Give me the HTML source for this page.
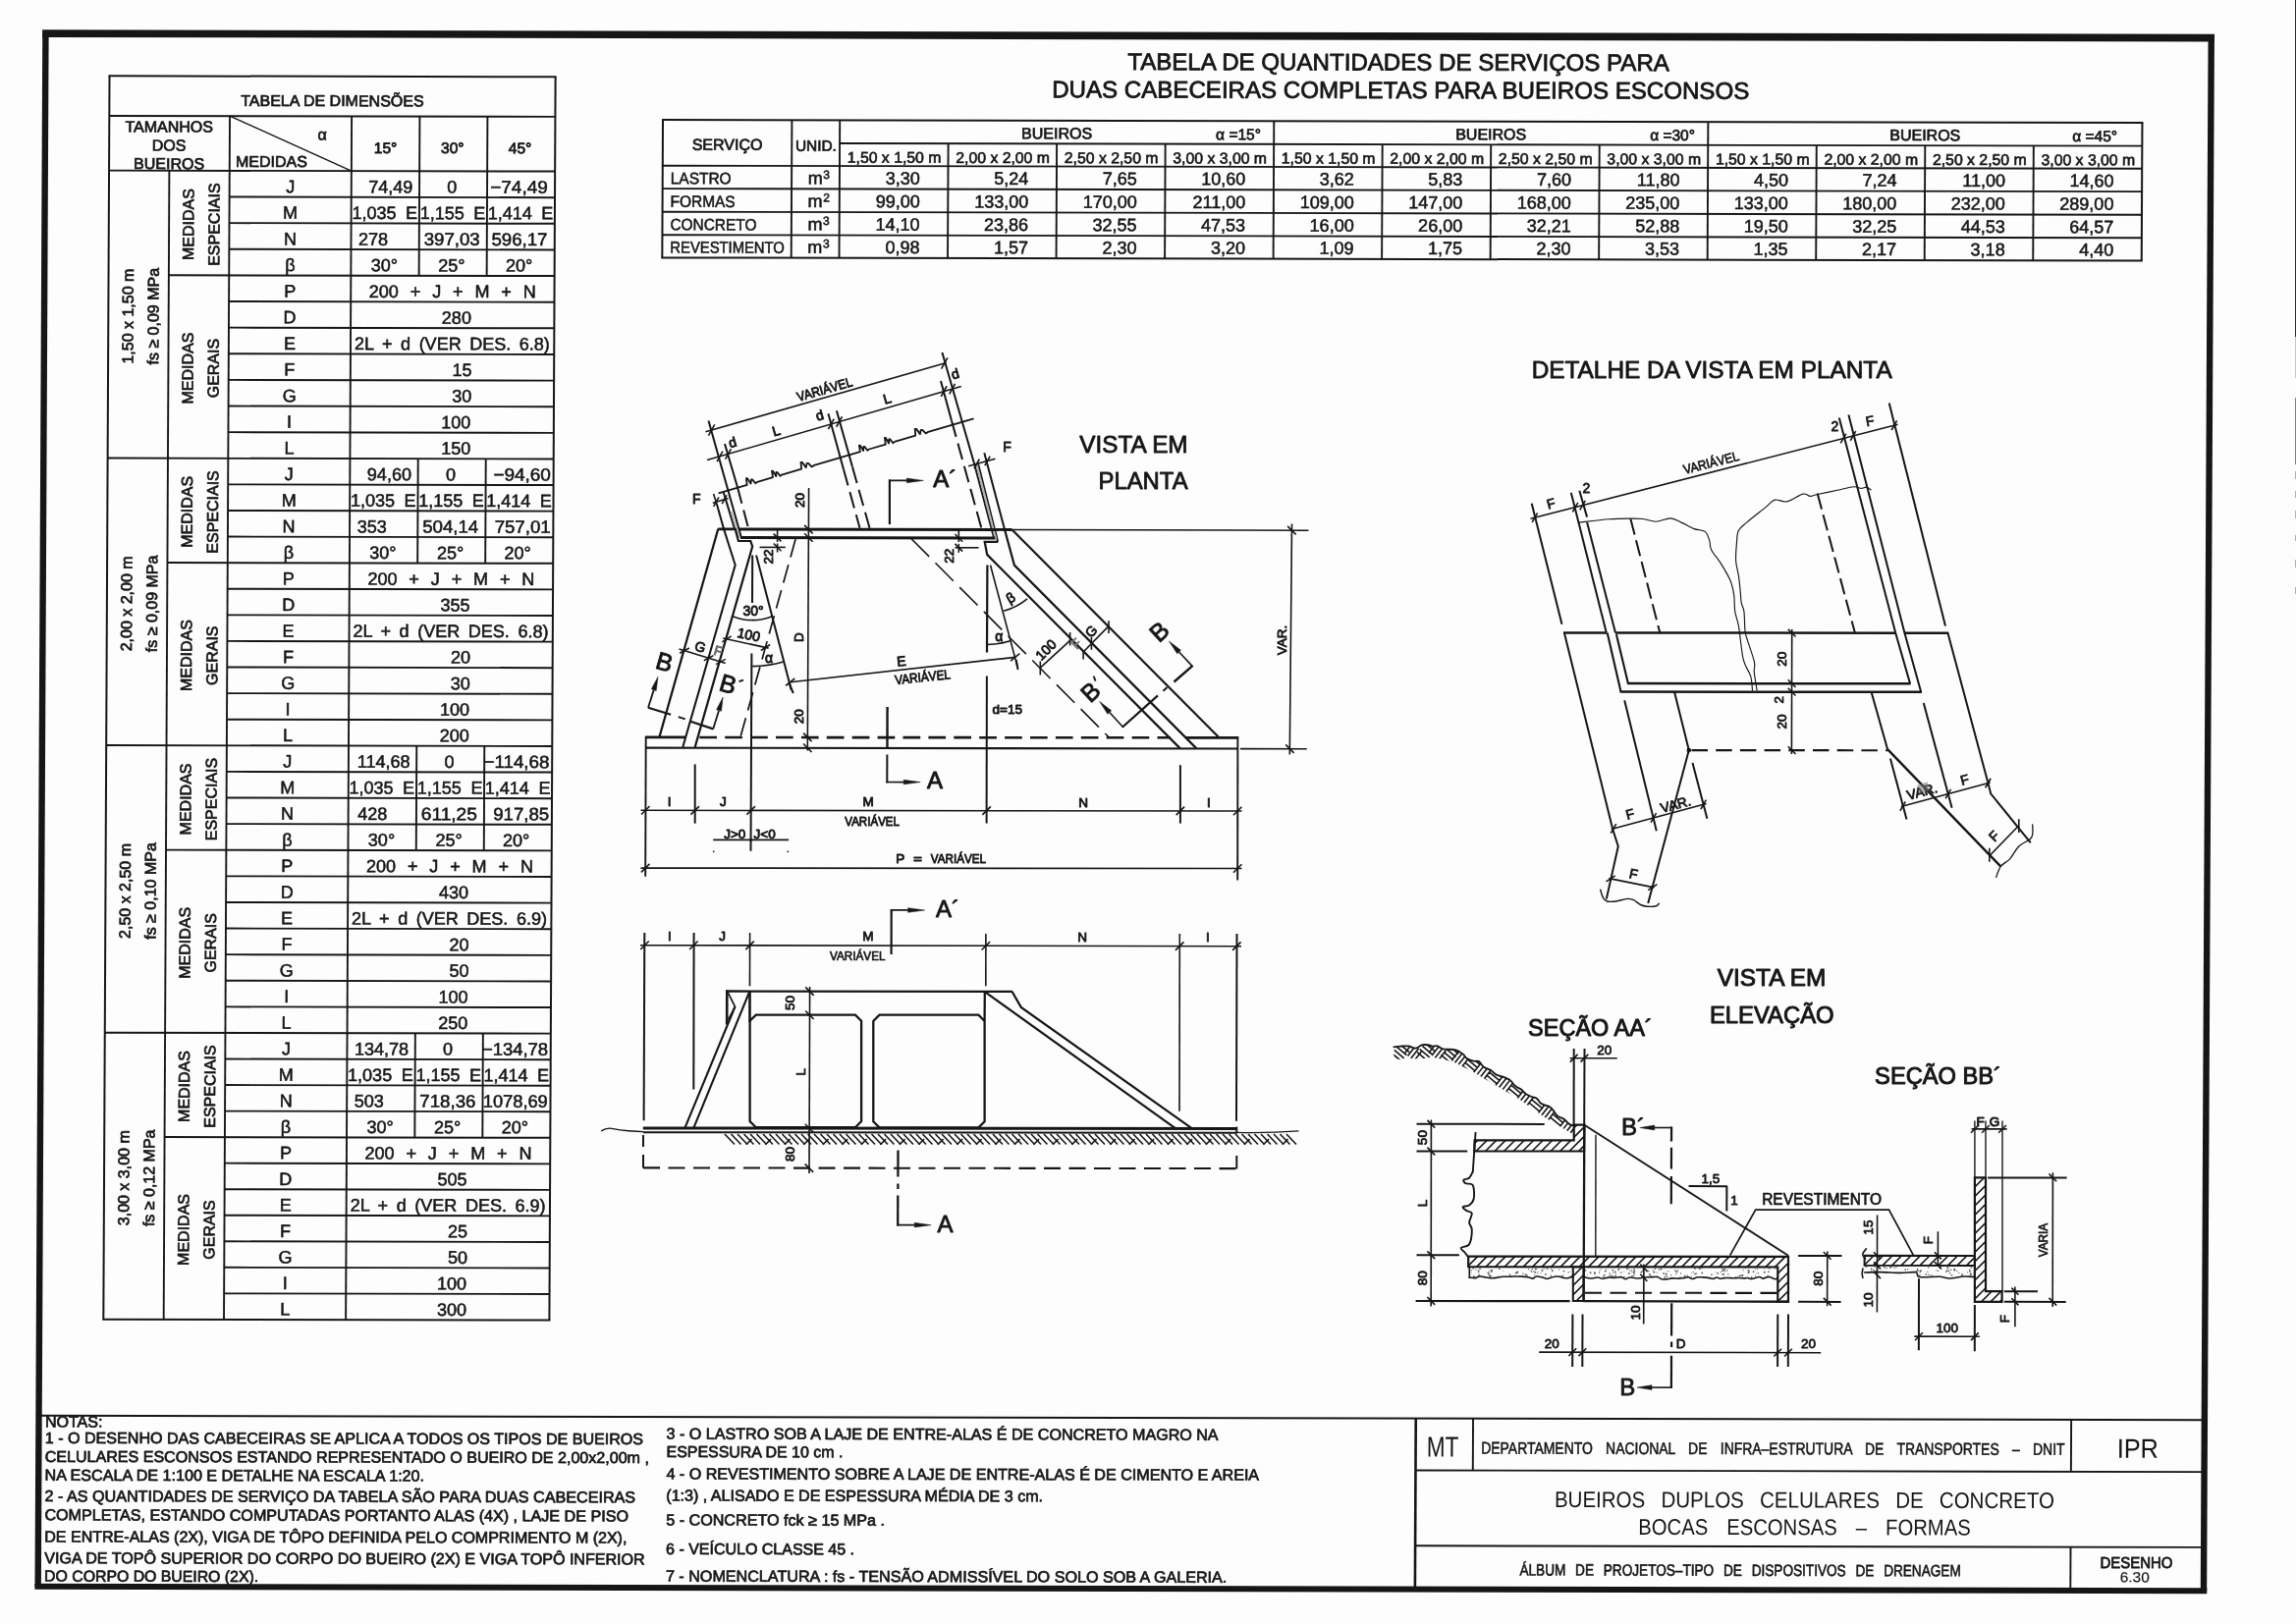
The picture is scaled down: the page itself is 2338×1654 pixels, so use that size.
<!DOCTYPE html>
<html><head><meta charset="utf-8"><title>Bueiros duplos celulares de concreto - bocas esconsas - formas</title>
<style>
html,body{margin:0;padding:0;background:#fdfdfd;}
body{width:2338px;height:1654px;overflow:hidden;font-family:"Liberation Sans",sans-serif;}
svg{display:block;font-family:"Liberation Sans",sans-serif;filter:blur(0.4px);}
text{paint-order:stroke;}
</style></head><body>
<svg width="2338" height="1654" viewBox="0 0 2338 1654">
<rect width="2338" height="1654" fill="#fdfdfd"/>
<g transform="matrix(1,0.00205,-0.0049,1,0,0)">
<path d="M43.3,37.8L2255.2,37.8L2255.2,30.2L43.3,30.2Z" fill="#161616"/>
<path d="M43.3,1618.6L2255.2,1618.6L2255.2,1612.6L43.3,1612.6Z" fill="#161616"/>
<path d="M43.4,33.6L43.4,1615.6L49.8,1615.6L49.8,33.6Z" fill="#161616"/>
<path d="M2248.7,33.6L2248.7,1615.6L2255.1,1615.6L2255.1,33.6Z" fill="#161616"/>
<path d="M46,1442.6L2252,1442.6L2252,1440.6L46,1440.6Z" fill="#161616"/>
<g transform="translate(0.3,0.8)">
<path d="M110.6,77.3L566.7,77.3L566.7,75.3L110.6,75.3Z" fill="#161616"/>
<path d="M110.6,1343.6L566.7,1343.6L566.7,1341.6L110.6,1341.6Z" fill="#161616"/>
<path d="M110.6,76.3L110.6,1342.6L112.6,1342.6L112.6,76.3Z" fill="#161616"/>
<path d="M564.7,76.3L564.7,1342.6L566.7,1342.6L566.7,76.3Z" fill="#161616"/>
<path d="M111.6,117.85L565.7,117.85L565.7,115.95L111.6,115.95Z" fill="#161616"/>
<path d="M111.6,173.55L565.7,173.55L565.7,171.65L111.6,171.65Z" fill="#161616"/>
<path d="M233.35,116.9L233.35,1342.6L235.25,1342.6L235.25,116.9Z" fill="#161616"/>
<path d="M357.45,116.9L357.45,1342.6L359.35,1342.6L359.35,116.9Z" fill="#161616"/>
<path d="M426.75,116.9L426.75,172.6L428.65,172.6L428.65,116.9Z" fill="#161616"/>
<path d="M495.75,116.9L495.75,172.6L497.65,172.6L497.65,116.9Z" fill="#161616"/>
<path d="M172,172.6L172,1342.6L173.9,1342.6L173.9,172.6Z" fill="#161616"/>
<path d="M234.01,117.54L358.11,173.24L358.69,171.96L234.59,116.26Z" fill="#161616"/>
<text x="338.65" y="106.6" font-size="16" text-anchor="middle" stroke="#161616" stroke-width="0.72" stroke-linejoin="round" fill="#161616">TABELA DE DIMENSÕES</text>
<text x="172.6" y="133.4" font-size="16" text-anchor="middle" stroke="#161616" stroke-width="0.72" stroke-linejoin="round" fill="#161616">TAMANHOS</text>
<text x="172.6" y="152.4" font-size="16" text-anchor="middle" stroke="#161616" stroke-width="0.72" stroke-linejoin="round" fill="#161616">DOS</text>
<text x="172.6" y="171" font-size="16" text-anchor="middle" stroke="#161616" stroke-width="0.72" stroke-linejoin="round" fill="#161616">BUEIROS</text>
<text x="328.5" y="141" font-size="16" text-anchor="middle" stroke="#161616" stroke-width="0.72" stroke-linejoin="round" fill="#161616">α</text>
<text x="240.5" y="168.6" font-size="16" stroke="#161616" stroke-width="0.72" stroke-linejoin="round" fill="#161616">MEDIDAS</text>
<text x="393" y="154.3" font-size="15.5" text-anchor="middle" stroke="#161616" stroke-width="0.8" stroke-linejoin="round" fill="#161616">15°</text>
<text x="461.3" y="154.3" font-size="15.5" text-anchor="middle" stroke="#161616" stroke-width="0.8" stroke-linejoin="round" fill="#161616">30°</text>
<text x="530" y="154.3" font-size="15.5" text-anchor="middle" stroke="#161616" stroke-width="0.8" stroke-linejoin="round" fill="#161616">45°</text>
<path d="M234.3,200.18L565.7,200.18L565.7,198.28L234.3,198.28Z" fill="#161616"/>
<path d="M234.3,226.8L565.7,226.8L565.7,224.9L234.3,224.9Z" fill="#161616"/>
<path d="M234.3,253.43L565.7,253.43L565.7,251.53L234.3,251.53Z" fill="#161616"/>
<path d="M172.7,280.06L565.7,280.06L565.7,278.16L172.7,278.16Z" fill="#161616"/>
<path d="M234.3,306.69L565.7,306.69L565.7,304.79L234.3,304.79Z" fill="#161616"/>
<path d="M234.3,333.31L565.7,333.31L565.7,331.41L234.3,331.41Z" fill="#161616"/>
<path d="M234.3,359.94L565.7,359.94L565.7,358.04L234.3,358.04Z" fill="#161616"/>
<path d="M234.3,386.57L565.7,386.57L565.7,384.67L234.3,384.67Z" fill="#161616"/>
<path d="M234.3,413.2L565.7,413.2L565.7,411.3L234.3,411.3Z" fill="#161616"/>
<path d="M234.3,439.82L565.7,439.82L565.7,437.92L234.3,437.92Z" fill="#161616"/>
<path d="M426.75,172.6L426.75,279.11L428.65,279.11L428.65,172.6Z" fill="#161616"/>
<path d="M495.75,172.6L495.75,279.11L497.65,279.11L497.65,172.6Z" fill="#161616"/>
<text x="137" y="321.05" font-size="16" text-anchor="middle" stroke="#161616" stroke-width="0.72" stroke-linejoin="round" fill="#161616" transform="rotate(-90 137 321.05)">1,50 x 1,50 m</text>
<text x="162.8" y="321.05" font-size="16" text-anchor="middle" stroke="#161616" stroke-width="0.72" stroke-linejoin="round" fill="#161616" transform="rotate(-90 162.8 321.05)">fs ≥ 0,09 MPa</text>
<text x="198.1" y="227.35" font-size="16" text-anchor="middle" stroke="#161616" stroke-width="0.72" stroke-linejoin="round" fill="#161616" transform="rotate(-90 198.1 227.35)">MEDIDAS</text>
<text x="224.3" y="227.35" font-size="16" text-anchor="middle" stroke="#161616" stroke-width="0.72" stroke-linejoin="round" fill="#161616" transform="rotate(-90 224.3 227.35)">ESPECIAIS</text>
<text x="198.1" y="373.8" font-size="16" text-anchor="middle" stroke="#161616" stroke-width="0.72" stroke-linejoin="round" fill="#161616" transform="rotate(-90 198.1 373.8)">MEDIDAS</text>
<text x="224.3" y="373.8" font-size="16" text-anchor="middle" stroke="#161616" stroke-width="0.72" stroke-linejoin="round" fill="#161616" transform="rotate(-90 224.3 373.8)">GERAIS</text>
<text x="296.4" y="194.83" font-size="18" text-anchor="middle" stroke="#161616" stroke-width="0.56" stroke-linejoin="round" fill="#161616">J</text>
<text x="296.4" y="221.45" font-size="18" text-anchor="middle" stroke="#161616" stroke-width="0.56" stroke-linejoin="round" fill="#161616">M</text>
<text x="296.4" y="248.08" font-size="18" text-anchor="middle" stroke="#161616" stroke-width="0.56" stroke-linejoin="round" fill="#161616">N</text>
<text x="296.4" y="274.71" font-size="18" text-anchor="middle" stroke="#161616" stroke-width="0.56" stroke-linejoin="round" fill="#161616">β</text>
<text x="296.4" y="301.34" font-size="18" text-anchor="middle" stroke="#161616" stroke-width="0.56" stroke-linejoin="round" fill="#161616">P</text>
<text x="296.4" y="327.96" font-size="18" text-anchor="middle" stroke="#161616" stroke-width="0.56" stroke-linejoin="round" fill="#161616">D</text>
<text x="296.4" y="354.59" font-size="18" text-anchor="middle" stroke="#161616" stroke-width="0.56" stroke-linejoin="round" fill="#161616">E</text>
<text x="296.4" y="381.22" font-size="18" text-anchor="middle" stroke="#161616" stroke-width="0.56" stroke-linejoin="round" fill="#161616">F</text>
<text x="296.4" y="407.85" font-size="18" text-anchor="middle" stroke="#161616" stroke-width="0.56" stroke-linejoin="round" fill="#161616">G</text>
<text x="296.4" y="434.47" font-size="18" text-anchor="middle" stroke="#161616" stroke-width="0.56" stroke-linejoin="round" fill="#161616">I</text>
<text x="296.4" y="461.1" font-size="18" text-anchor="middle" stroke="#161616" stroke-width="0.56" stroke-linejoin="round" fill="#161616">L</text>
<text x="421" y="194.83" font-size="18" text-anchor="end" stroke="#161616" stroke-width="0.56" stroke-linejoin="round" fill="#161616">74,49</text>
<text x="461" y="194.83" font-size="18" text-anchor="middle" stroke="#161616" stroke-width="0.56" stroke-linejoin="round" fill="#161616">0</text>
<text x="558.4" y="194.83" font-size="18" text-anchor="end" textLength="58.5" lengthAdjust="spacingAndGlyphs" stroke="#161616" stroke-width="0.56" stroke-linejoin="round" fill="#161616">−74,49</text>
<text x="359.2" y="221.45" font-size="18" stroke="#161616" stroke-width="0.56" stroke-linejoin="round" word-spacing="4.5" fill="#161616">1,035 E</text>
<text x="428.5" y="221.45" font-size="18" stroke="#161616" stroke-width="0.56" stroke-linejoin="round" word-spacing="4.5" fill="#161616">1,155 E</text>
<text x="497.5" y="221.45" font-size="18" stroke="#161616" stroke-width="0.56" stroke-linejoin="round" word-spacing="4.5" fill="#161616">1,414 E</text>
<text x="366" y="248.08" font-size="18" stroke="#161616" stroke-width="0.56" stroke-linejoin="round" fill="#161616">278</text>
<text x="489.6" y="248.08" font-size="18" text-anchor="end" textLength="57" lengthAdjust="spacingAndGlyphs" stroke="#161616" stroke-width="0.56" stroke-linejoin="round" fill="#161616">397,03</text>
<text x="558.4" y="248.08" font-size="18" text-anchor="end" textLength="57" lengthAdjust="spacingAndGlyphs" stroke="#161616" stroke-width="0.56" stroke-linejoin="round" fill="#161616">596,17</text>
<text x="392.4" y="274.71" font-size="18" text-anchor="middle" stroke="#161616" stroke-width="0.56" stroke-linejoin="round" fill="#161616">30°</text>
<text x="461" y="274.71" font-size="18" text-anchor="middle" stroke="#161616" stroke-width="0.56" stroke-linejoin="round" fill="#161616">25°</text>
<text x="529.6" y="274.71" font-size="18" text-anchor="middle" stroke="#161616" stroke-width="0.56" stroke-linejoin="round" fill="#161616">20°</text>
<text x="377" y="301.34" font-size="18" stroke="#161616" stroke-width="0.56" stroke-linejoin="round" word-spacing="6.9" fill="#161616">200 + J + M + N</text>
<text x="466.2" y="327.96" font-size="18" text-anchor="middle" stroke="#161616" stroke-width="0.56" stroke-linejoin="round" fill="#161616">280</text>
<text x="362.4" y="354.59" font-size="18" stroke="#161616" stroke-width="0.56" stroke-linejoin="round" word-spacing="3.6" fill="#161616">2L + d (VER DES. 6.8)</text>
<text x="472" y="381.22" font-size="18" text-anchor="middle" stroke="#161616" stroke-width="0.56" stroke-linejoin="round" fill="#161616">15</text>
<text x="472" y="407.85" font-size="18" text-anchor="middle" stroke="#161616" stroke-width="0.56" stroke-linejoin="round" fill="#161616">30</text>
<text x="466.2" y="434.47" font-size="18" text-anchor="middle" stroke="#161616" stroke-width="0.56" stroke-linejoin="round" fill="#161616">100</text>
<text x="466.2" y="461.1" font-size="18" text-anchor="middle" stroke="#161616" stroke-width="0.56" stroke-linejoin="round" fill="#161616">150</text>
<path d="M111.6,466.45L565.7,466.45L565.7,464.55L111.6,464.55Z" fill="#161616"/>
<path d="M234.3,493.04L565.7,493.04L565.7,491.14L234.3,491.14Z" fill="#161616"/>
<path d="M234.3,519.63L565.7,519.63L565.7,517.73L234.3,517.73Z" fill="#161616"/>
<path d="M234.3,546.22L565.7,546.22L565.7,544.32L234.3,544.32Z" fill="#161616"/>
<path d="M172.7,572.81L565.7,572.81L565.7,570.91L172.7,570.91Z" fill="#161616"/>
<path d="M234.3,599.4L565.7,599.4L565.7,597.5L234.3,597.5Z" fill="#161616"/>
<path d="M234.3,626L565.7,626L565.7,624.1L234.3,624.1Z" fill="#161616"/>
<path d="M234.3,652.59L565.7,652.59L565.7,650.69L234.3,650.69Z" fill="#161616"/>
<path d="M234.3,679.18L565.7,679.18L565.7,677.28L234.3,677.28Z" fill="#161616"/>
<path d="M234.3,705.77L565.7,705.77L565.7,703.87L234.3,703.87Z" fill="#161616"/>
<path d="M234.3,732.36L565.7,732.36L565.7,730.46L234.3,730.46Z" fill="#161616"/>
<path d="M426.75,465.5L426.75,571.86L428.65,571.86L428.65,465.5Z" fill="#161616"/>
<path d="M495.75,465.5L495.75,571.86L497.65,571.86L497.65,465.5Z" fill="#161616"/>
<text x="137" y="613.75" font-size="16" text-anchor="middle" stroke="#161616" stroke-width="0.72" stroke-linejoin="round" fill="#161616" transform="rotate(-90 137 613.75)">2,00 x 2,00 m</text>
<text x="162.8" y="613.75" font-size="16" text-anchor="middle" stroke="#161616" stroke-width="0.72" stroke-linejoin="round" fill="#161616" transform="rotate(-90 162.8 613.75)">fs ≥ 0,09 MPa</text>
<text x="198.1" y="520.18" font-size="16" text-anchor="middle" stroke="#161616" stroke-width="0.72" stroke-linejoin="round" fill="#161616" transform="rotate(-90 198.1 520.18)">MEDIDAS</text>
<text x="224.3" y="520.18" font-size="16" text-anchor="middle" stroke="#161616" stroke-width="0.72" stroke-linejoin="round" fill="#161616" transform="rotate(-90 224.3 520.18)">ESPECIAIS</text>
<text x="198.1" y="666.43" font-size="16" text-anchor="middle" stroke="#161616" stroke-width="0.72" stroke-linejoin="round" fill="#161616" transform="rotate(-90 198.1 666.43)">MEDIDAS</text>
<text x="224.3" y="666.43" font-size="16" text-anchor="middle" stroke="#161616" stroke-width="0.72" stroke-linejoin="round" fill="#161616" transform="rotate(-90 224.3 666.43)">GERAIS</text>
<text x="296.4" y="487.69" font-size="18" text-anchor="middle" stroke="#161616" stroke-width="0.56" stroke-linejoin="round" fill="#161616">J</text>
<text x="296.4" y="514.28" font-size="18" text-anchor="middle" stroke="#161616" stroke-width="0.56" stroke-linejoin="round" fill="#161616">M</text>
<text x="296.4" y="540.87" font-size="18" text-anchor="middle" stroke="#161616" stroke-width="0.56" stroke-linejoin="round" fill="#161616">N</text>
<text x="296.4" y="567.46" font-size="18" text-anchor="middle" stroke="#161616" stroke-width="0.56" stroke-linejoin="round" fill="#161616">β</text>
<text x="296.4" y="594.05" font-size="18" text-anchor="middle" stroke="#161616" stroke-width="0.56" stroke-linejoin="round" fill="#161616">P</text>
<text x="296.4" y="620.65" font-size="18" text-anchor="middle" stroke="#161616" stroke-width="0.56" stroke-linejoin="round" fill="#161616">D</text>
<text x="296.4" y="647.24" font-size="18" text-anchor="middle" stroke="#161616" stroke-width="0.56" stroke-linejoin="round" fill="#161616">E</text>
<text x="296.4" y="673.83" font-size="18" text-anchor="middle" stroke="#161616" stroke-width="0.56" stroke-linejoin="round" fill="#161616">F</text>
<text x="296.4" y="700.42" font-size="18" text-anchor="middle" stroke="#161616" stroke-width="0.56" stroke-linejoin="round" fill="#161616">G</text>
<text x="296.4" y="727.01" font-size="18" text-anchor="middle" stroke="#161616" stroke-width="0.56" stroke-linejoin="round" fill="#161616">I</text>
<text x="296.4" y="753.6" font-size="18" text-anchor="middle" stroke="#161616" stroke-width="0.56" stroke-linejoin="round" fill="#161616">L</text>
<text x="421" y="487.69" font-size="18" text-anchor="end" stroke="#161616" stroke-width="0.56" stroke-linejoin="round" fill="#161616">94,60</text>
<text x="461" y="487.69" font-size="18" text-anchor="middle" stroke="#161616" stroke-width="0.56" stroke-linejoin="round" fill="#161616">0</text>
<text x="563" y="487.69" font-size="18" text-anchor="end" textLength="58.5" lengthAdjust="spacingAndGlyphs" stroke="#161616" stroke-width="0.56" stroke-linejoin="round" fill="#161616">−94,60</text>
<text x="359.2" y="514.28" font-size="18" stroke="#161616" stroke-width="0.56" stroke-linejoin="round" word-spacing="4.5" fill="#161616">1,035 E</text>
<text x="428.5" y="514.28" font-size="18" stroke="#161616" stroke-width="0.56" stroke-linejoin="round" word-spacing="4.5" fill="#161616">1,155 E</text>
<text x="497.5" y="514.28" font-size="18" stroke="#161616" stroke-width="0.56" stroke-linejoin="round" word-spacing="4.5" fill="#161616">1,414 E</text>
<text x="366" y="540.87" font-size="18" stroke="#161616" stroke-width="0.56" stroke-linejoin="round" fill="#161616">353</text>
<text x="489.6" y="540.87" font-size="18" text-anchor="end" textLength="57" lengthAdjust="spacingAndGlyphs" stroke="#161616" stroke-width="0.56" stroke-linejoin="round" fill="#161616">504,14</text>
<text x="563" y="540.87" font-size="18" text-anchor="end" textLength="57" lengthAdjust="spacingAndGlyphs" stroke="#161616" stroke-width="0.56" stroke-linejoin="round" fill="#161616">757,01</text>
<text x="392.4" y="567.46" font-size="18" text-anchor="middle" stroke="#161616" stroke-width="0.56" stroke-linejoin="round" fill="#161616">30°</text>
<text x="461" y="567.46" font-size="18" text-anchor="middle" stroke="#161616" stroke-width="0.56" stroke-linejoin="round" fill="#161616">25°</text>
<text x="529.6" y="567.46" font-size="18" text-anchor="middle" stroke="#161616" stroke-width="0.56" stroke-linejoin="round" fill="#161616">20°</text>
<text x="377" y="594.05" font-size="18" stroke="#161616" stroke-width="0.56" stroke-linejoin="round" word-spacing="6.9" fill="#161616">200 + J + M + N</text>
<text x="466.2" y="620.65" font-size="18" text-anchor="middle" stroke="#161616" stroke-width="0.56" stroke-linejoin="round" fill="#161616">355</text>
<text x="362.4" y="647.24" font-size="18" stroke="#161616" stroke-width="0.56" stroke-linejoin="round" word-spacing="3.6" fill="#161616">2L + d (VER DES. 6.8)</text>
<text x="472" y="673.83" font-size="18" text-anchor="middle" stroke="#161616" stroke-width="0.56" stroke-linejoin="round" fill="#161616">20</text>
<text x="472" y="700.42" font-size="18" text-anchor="middle" stroke="#161616" stroke-width="0.56" stroke-linejoin="round" fill="#161616">30</text>
<text x="466.2" y="727.01" font-size="18" text-anchor="middle" stroke="#161616" stroke-width="0.56" stroke-linejoin="round" fill="#161616">100</text>
<text x="466.2" y="753.6" font-size="18" text-anchor="middle" stroke="#161616" stroke-width="0.56" stroke-linejoin="round" fill="#161616">200</text>
<path d="M111.6,758.95L565.7,758.95L565.7,757.05L111.6,757.05Z" fill="#161616"/>
<path d="M234.3,785.56L565.7,785.56L565.7,783.66L234.3,783.66Z" fill="#161616"/>
<path d="M234.3,812.17L565.7,812.17L565.7,810.27L234.3,810.27Z" fill="#161616"/>
<path d="M234.3,838.78L565.7,838.78L565.7,836.88L234.3,836.88Z" fill="#161616"/>
<path d="M172.7,865.39L565.7,865.39L565.7,863.49L172.7,863.49Z" fill="#161616"/>
<path d="M234.3,892L565.7,892L565.7,890.1L234.3,890.1Z" fill="#161616"/>
<path d="M234.3,918.6L565.7,918.6L565.7,916.7L234.3,916.7Z" fill="#161616"/>
<path d="M234.3,945.21L565.7,945.21L565.7,943.31L234.3,943.31Z" fill="#161616"/>
<path d="M234.3,971.82L565.7,971.82L565.7,969.92L234.3,969.92Z" fill="#161616"/>
<path d="M234.3,998.43L565.7,998.43L565.7,996.53L234.3,996.53Z" fill="#161616"/>
<path d="M234.3,1025.04L565.7,1025.04L565.7,1023.14L234.3,1023.14Z" fill="#161616"/>
<path d="M426.75,758L426.75,864.44L428.65,864.44L428.65,758Z" fill="#161616"/>
<path d="M495.75,758L495.75,864.44L497.65,864.44L497.65,758Z" fill="#161616"/>
<text x="137" y="906.35" font-size="16" text-anchor="middle" stroke="#161616" stroke-width="0.72" stroke-linejoin="round" fill="#161616" transform="rotate(-90 137 906.35)">2,50 x 2,50 m</text>
<text x="162.8" y="906.35" font-size="16" text-anchor="middle" stroke="#161616" stroke-width="0.72" stroke-linejoin="round" fill="#161616" transform="rotate(-90 162.8 906.35)">fs ≥ 0,10 MPa</text>
<text x="198.1" y="812.72" font-size="16" text-anchor="middle" stroke="#161616" stroke-width="0.72" stroke-linejoin="round" fill="#161616" transform="rotate(-90 198.1 812.72)">MEDIDAS</text>
<text x="224.3" y="812.72" font-size="16" text-anchor="middle" stroke="#161616" stroke-width="0.72" stroke-linejoin="round" fill="#161616" transform="rotate(-90 224.3 812.72)">ESPECIAIS</text>
<text x="198.1" y="959.07" font-size="16" text-anchor="middle" stroke="#161616" stroke-width="0.72" stroke-linejoin="round" fill="#161616" transform="rotate(-90 198.1 959.07)">MEDIDAS</text>
<text x="224.3" y="959.07" font-size="16" text-anchor="middle" stroke="#161616" stroke-width="0.72" stroke-linejoin="round" fill="#161616" transform="rotate(-90 224.3 959.07)">GERAIS</text>
<text x="296.4" y="780.21" font-size="18" text-anchor="middle" stroke="#161616" stroke-width="0.56" stroke-linejoin="round" fill="#161616">J</text>
<text x="296.4" y="806.82" font-size="18" text-anchor="middle" stroke="#161616" stroke-width="0.56" stroke-linejoin="round" fill="#161616">M</text>
<text x="296.4" y="833.43" font-size="18" text-anchor="middle" stroke="#161616" stroke-width="0.56" stroke-linejoin="round" fill="#161616">N</text>
<text x="296.4" y="860.04" font-size="18" text-anchor="middle" stroke="#161616" stroke-width="0.56" stroke-linejoin="round" fill="#161616">β</text>
<text x="296.4" y="886.65" font-size="18" text-anchor="middle" stroke="#161616" stroke-width="0.56" stroke-linejoin="round" fill="#161616">P</text>
<text x="296.4" y="913.25" font-size="18" text-anchor="middle" stroke="#161616" stroke-width="0.56" stroke-linejoin="round" fill="#161616">D</text>
<text x="296.4" y="939.86" font-size="18" text-anchor="middle" stroke="#161616" stroke-width="0.56" stroke-linejoin="round" fill="#161616">E</text>
<text x="296.4" y="966.47" font-size="18" text-anchor="middle" stroke="#161616" stroke-width="0.56" stroke-linejoin="round" fill="#161616">F</text>
<text x="296.4" y="993.08" font-size="18" text-anchor="middle" stroke="#161616" stroke-width="0.56" stroke-linejoin="round" fill="#161616">G</text>
<text x="296.4" y="1019.69" font-size="18" text-anchor="middle" stroke="#161616" stroke-width="0.56" stroke-linejoin="round" fill="#161616">I</text>
<text x="296.4" y="1046.3" font-size="18" text-anchor="middle" stroke="#161616" stroke-width="0.56" stroke-linejoin="round" fill="#161616">L</text>
<text x="421" y="780.21" font-size="18" text-anchor="end" stroke="#161616" stroke-width="0.56" stroke-linejoin="round" fill="#161616">114,68</text>
<text x="461" y="780.21" font-size="18" text-anchor="middle" stroke="#161616" stroke-width="0.56" stroke-linejoin="round" fill="#161616">0</text>
<text x="563" y="780.21" font-size="18" text-anchor="end" textLength="67" lengthAdjust="spacingAndGlyphs" stroke="#161616" stroke-width="0.56" stroke-linejoin="round" fill="#161616">−114,68</text>
<text x="359.2" y="806.82" font-size="18" stroke="#161616" stroke-width="0.56" stroke-linejoin="round" word-spacing="4.5" fill="#161616">1,035 E</text>
<text x="428.5" y="806.82" font-size="18" stroke="#161616" stroke-width="0.56" stroke-linejoin="round" word-spacing="4.5" fill="#161616">1,155 E</text>
<text x="497.5" y="806.82" font-size="18" stroke="#161616" stroke-width="0.56" stroke-linejoin="round" word-spacing="4.5" fill="#161616">1,414 E</text>
<text x="368" y="833.43" font-size="18" stroke="#161616" stroke-width="0.56" stroke-linejoin="round" fill="#161616">428</text>
<text x="489.6" y="833.43" font-size="18" text-anchor="end" textLength="57" lengthAdjust="spacingAndGlyphs" stroke="#161616" stroke-width="0.56" stroke-linejoin="round" fill="#161616">611,25</text>
<text x="563" y="833.43" font-size="18" text-anchor="end" textLength="57" lengthAdjust="spacingAndGlyphs" stroke="#161616" stroke-width="0.56" stroke-linejoin="round" fill="#161616">917,85</text>
<text x="392.4" y="860.04" font-size="18" text-anchor="middle" stroke="#161616" stroke-width="0.56" stroke-linejoin="round" fill="#161616">30°</text>
<text x="461" y="860.04" font-size="18" text-anchor="middle" stroke="#161616" stroke-width="0.56" stroke-linejoin="round" fill="#161616">25°</text>
<text x="529.6" y="860.04" font-size="18" text-anchor="middle" stroke="#161616" stroke-width="0.56" stroke-linejoin="round" fill="#161616">20°</text>
<text x="377" y="886.65" font-size="18" stroke="#161616" stroke-width="0.56" stroke-linejoin="round" word-spacing="6.9" fill="#161616">200 + J + M + N</text>
<text x="466.2" y="913.25" font-size="18" text-anchor="middle" stroke="#161616" stroke-width="0.56" stroke-linejoin="round" fill="#161616">430</text>
<text x="362.4" y="939.86" font-size="18" stroke="#161616" stroke-width="0.56" stroke-linejoin="round" word-spacing="3.6" fill="#161616">2L + d (VER DES. 6.9)</text>
<text x="472" y="966.47" font-size="18" text-anchor="middle" stroke="#161616" stroke-width="0.56" stroke-linejoin="round" fill="#161616">20</text>
<text x="472" y="993.08" font-size="18" text-anchor="middle" stroke="#161616" stroke-width="0.56" stroke-linejoin="round" fill="#161616">50</text>
<text x="466.2" y="1019.69" font-size="18" text-anchor="middle" stroke="#161616" stroke-width="0.56" stroke-linejoin="round" fill="#161616">100</text>
<text x="466.2" y="1046.3" font-size="18" text-anchor="middle" stroke="#161616" stroke-width="0.56" stroke-linejoin="round" fill="#161616">250</text>
<path d="M111.6,1051.65L565.7,1051.65L565.7,1049.75L111.6,1049.75Z" fill="#161616"/>
<path d="M234.3,1078.19L565.7,1078.19L565.7,1076.29L234.3,1076.29Z" fill="#161616"/>
<path d="M234.3,1104.72L565.7,1104.72L565.7,1102.82L234.3,1102.82Z" fill="#161616"/>
<path d="M234.3,1131.26L565.7,1131.26L565.7,1129.36L234.3,1129.36Z" fill="#161616"/>
<path d="M172.7,1157.8L565.7,1157.8L565.7,1155.9L172.7,1155.9Z" fill="#161616"/>
<path d="M234.3,1184.33L565.7,1184.33L565.7,1182.43L234.3,1182.43Z" fill="#161616"/>
<path d="M234.3,1210.87L565.7,1210.87L565.7,1208.97L234.3,1208.97Z" fill="#161616"/>
<path d="M234.3,1237.4L565.7,1237.4L565.7,1235.5L234.3,1235.5Z" fill="#161616"/>
<path d="M234.3,1263.94L565.7,1263.94L565.7,1262.04L234.3,1262.04Z" fill="#161616"/>
<path d="M234.3,1290.48L565.7,1290.48L565.7,1288.58L234.3,1288.58Z" fill="#161616"/>
<path d="M234.3,1317.01L565.7,1317.01L565.7,1315.11L234.3,1315.11Z" fill="#161616"/>
<path d="M426.75,1050.7L426.75,1156.85L428.65,1156.85L428.65,1050.7Z" fill="#161616"/>
<path d="M495.75,1050.7L495.75,1156.85L497.65,1156.85L497.65,1050.7Z" fill="#161616"/>
<text x="137" y="1198.65" font-size="16" text-anchor="middle" stroke="#161616" stroke-width="0.72" stroke-linejoin="round" fill="#161616" transform="rotate(-90 137 1198.65)">3,00 x 3,00 m</text>
<text x="162.8" y="1198.65" font-size="16" text-anchor="middle" stroke="#161616" stroke-width="0.72" stroke-linejoin="round" fill="#161616" transform="rotate(-90 162.8 1198.65)">fs ≥ 0,12 MPa</text>
<text x="198.1" y="1105.27" font-size="16" text-anchor="middle" stroke="#161616" stroke-width="0.72" stroke-linejoin="round" fill="#161616" transform="rotate(-90 198.1 1105.27)">MEDIDAS</text>
<text x="224.3" y="1105.27" font-size="16" text-anchor="middle" stroke="#161616" stroke-width="0.72" stroke-linejoin="round" fill="#161616" transform="rotate(-90 224.3 1105.27)">ESPECIAIS</text>
<text x="198.1" y="1251.22" font-size="16" text-anchor="middle" stroke="#161616" stroke-width="0.72" stroke-linejoin="round" fill="#161616" transform="rotate(-90 198.1 1251.22)">MEDIDAS</text>
<text x="224.3" y="1251.22" font-size="16" text-anchor="middle" stroke="#161616" stroke-width="0.72" stroke-linejoin="round" fill="#161616" transform="rotate(-90 224.3 1251.22)">GERAIS</text>
<text x="296.4" y="1072.84" font-size="18" text-anchor="middle" stroke="#161616" stroke-width="0.56" stroke-linejoin="round" fill="#161616">J</text>
<text x="296.4" y="1099.37" font-size="18" text-anchor="middle" stroke="#161616" stroke-width="0.56" stroke-linejoin="round" fill="#161616">M</text>
<text x="296.4" y="1125.91" font-size="18" text-anchor="middle" stroke="#161616" stroke-width="0.56" stroke-linejoin="round" fill="#161616">N</text>
<text x="296.4" y="1152.45" font-size="18" text-anchor="middle" stroke="#161616" stroke-width="0.56" stroke-linejoin="round" fill="#161616">β</text>
<text x="296.4" y="1178.98" font-size="18" text-anchor="middle" stroke="#161616" stroke-width="0.56" stroke-linejoin="round" fill="#161616">P</text>
<text x="296.4" y="1205.52" font-size="18" text-anchor="middle" stroke="#161616" stroke-width="0.56" stroke-linejoin="round" fill="#161616">D</text>
<text x="296.4" y="1232.05" font-size="18" text-anchor="middle" stroke="#161616" stroke-width="0.56" stroke-linejoin="round" fill="#161616">E</text>
<text x="296.4" y="1258.59" font-size="18" text-anchor="middle" stroke="#161616" stroke-width="0.56" stroke-linejoin="round" fill="#161616">F</text>
<text x="296.4" y="1285.13" font-size="18" text-anchor="middle" stroke="#161616" stroke-width="0.56" stroke-linejoin="round" fill="#161616">G</text>
<text x="296.4" y="1311.66" font-size="18" text-anchor="middle" stroke="#161616" stroke-width="0.56" stroke-linejoin="round" fill="#161616">I</text>
<text x="296.4" y="1338.2" font-size="18" text-anchor="middle" stroke="#161616" stroke-width="0.56" stroke-linejoin="round" fill="#161616">L</text>
<text x="421" y="1072.84" font-size="18" text-anchor="end" stroke="#161616" stroke-width="0.56" stroke-linejoin="round" fill="#161616">134,78</text>
<text x="461" y="1072.84" font-size="18" text-anchor="middle" stroke="#161616" stroke-width="0.56" stroke-linejoin="round" fill="#161616">0</text>
<text x="563" y="1072.84" font-size="18" text-anchor="end" textLength="67" lengthAdjust="spacingAndGlyphs" stroke="#161616" stroke-width="0.56" stroke-linejoin="round" fill="#161616">−134,78</text>
<text x="359.2" y="1099.37" font-size="18" stroke="#161616" stroke-width="0.56" stroke-linejoin="round" word-spacing="4.5" fill="#161616">1,035 E</text>
<text x="428.5" y="1099.37" font-size="18" stroke="#161616" stroke-width="0.56" stroke-linejoin="round" word-spacing="4.5" fill="#161616">1,155 E</text>
<text x="497.5" y="1099.37" font-size="18" stroke="#161616" stroke-width="0.56" stroke-linejoin="round" word-spacing="4.5" fill="#161616">1,414 E</text>
<text x="366" y="1125.91" font-size="18" stroke="#161616" stroke-width="0.56" stroke-linejoin="round" fill="#161616">503</text>
<text x="489.6" y="1125.91" font-size="18" text-anchor="end" textLength="57" lengthAdjust="spacingAndGlyphs" stroke="#161616" stroke-width="0.56" stroke-linejoin="round" fill="#161616">718,36</text>
<text x="563" y="1125.91" font-size="18" text-anchor="end" textLength="66" lengthAdjust="spacingAndGlyphs" stroke="#161616" stroke-width="0.56" stroke-linejoin="round" fill="#161616">1078,69</text>
<text x="392.4" y="1152.45" font-size="18" text-anchor="middle" stroke="#161616" stroke-width="0.56" stroke-linejoin="round" fill="#161616">30°</text>
<text x="461" y="1152.45" font-size="18" text-anchor="middle" stroke="#161616" stroke-width="0.56" stroke-linejoin="round" fill="#161616">25°</text>
<text x="529.6" y="1152.45" font-size="18" text-anchor="middle" stroke="#161616" stroke-width="0.56" stroke-linejoin="round" fill="#161616">20°</text>
<text x="377" y="1178.98" font-size="18" stroke="#161616" stroke-width="0.56" stroke-linejoin="round" word-spacing="6.9" fill="#161616">200 + J + M + N</text>
<text x="466.2" y="1205.52" font-size="18" text-anchor="middle" stroke="#161616" stroke-width="0.56" stroke-linejoin="round" fill="#161616">505</text>
<text x="362.4" y="1232.05" font-size="18" stroke="#161616" stroke-width="0.56" stroke-linejoin="round" word-spacing="3.6" fill="#161616">2L + d (VER DES. 6.9)</text>
<text x="472" y="1258.59" font-size="18" text-anchor="middle" stroke="#161616" stroke-width="0.56" stroke-linejoin="round" fill="#161616">25</text>
<text x="472" y="1285.13" font-size="18" text-anchor="middle" stroke="#161616" stroke-width="0.56" stroke-linejoin="round" fill="#161616">50</text>
<text x="466.2" y="1311.66" font-size="18" text-anchor="middle" stroke="#161616" stroke-width="0.56" stroke-linejoin="round" fill="#161616">100</text>
<text x="466.2" y="1338.2" font-size="18" text-anchor="middle" stroke="#161616" stroke-width="0.56" stroke-linejoin="round" fill="#161616">300</text>
</g>
<g transform="translate(0.6,0.4)">
<path d="M674,121.2L2182.44,121.2L2182.44,119.2L674,119.2Z" fill="#161616"/>
<path d="M674,261.6L2182.44,261.6L2182.44,259.6L674,259.6Z" fill="#161616"/>
<path d="M674,120.2L674,260.6L676,260.6L676,120.2Z" fill="#161616"/>
<path d="M2180.44,120.2L2180.44,260.6L2182.44,260.6L2182.44,120.2Z" fill="#161616"/>
<path d="M855.2,144.75L2181.44,144.75L2181.44,142.85L855.2,142.85Z" fill="#161616"/>
<path d="M675,167.85L2181.44,167.85L2181.44,165.95L675,165.95Z" fill="#161616"/>
<path d="M675,191.25L2181.44,191.25L2181.44,189.35L675,189.35Z" fill="#161616"/>
<path d="M675,214.85L2181.44,214.85L2181.44,212.95L675,212.95Z" fill="#161616"/>
<path d="M675,238.35L2181.44,238.35L2181.44,236.45L675,236.45Z" fill="#161616"/>
<path d="M805.45,120.2L805.45,260.6L807.35,260.6L807.35,120.2Z" fill="#161616"/>
<path d="M854.25,120.2L854.25,260.6L856.15,260.6L856.15,120.2Z" fill="#161616"/>
<path d="M964.77,143.8L964.77,260.6L966.67,260.6L966.67,143.8Z" fill="#161616"/>
<path d="M1075.29,143.8L1075.29,260.6L1077.19,260.6L1077.19,143.8Z" fill="#161616"/>
<path d="M1185.81,143.8L1185.81,260.6L1187.71,260.6L1187.71,143.8Z" fill="#161616"/>
<path d="M1296.33,120.2L1296.33,260.6L1298.23,260.6L1298.23,120.2Z" fill="#161616"/>
<path d="M1406.85,143.8L1406.85,260.6L1408.75,260.6L1408.75,143.8Z" fill="#161616"/>
<path d="M1517.37,143.8L1517.37,260.6L1519.27,260.6L1519.27,143.8Z" fill="#161616"/>
<path d="M1627.89,143.8L1627.89,260.6L1629.79,260.6L1629.79,143.8Z" fill="#161616"/>
<path d="M1738.41,120.2L1738.41,260.6L1740.31,260.6L1740.31,120.2Z" fill="#161616"/>
<path d="M1848.93,143.8L1848.93,260.6L1850.83,260.6L1850.83,143.8Z" fill="#161616"/>
<path d="M1959.45,143.8L1959.45,260.6L1961.35,260.6L1961.35,143.8Z" fill="#161616"/>
<path d="M2069.97,143.8L2069.97,260.6L2071.87,260.6L2071.87,143.8Z" fill="#161616"/>
<text x="740.7" y="150.9" font-size="16" text-anchor="middle" stroke="#161616" stroke-width="0.72" stroke-linejoin="round" fill="#161616">SERVIÇO</text>
<text x="831.1" y="151.7" font-size="15.4" text-anchor="middle" stroke="#161616" stroke-width="0.72" stroke-linejoin="round" fill="#161616">UNID.</text>
<text x="1076.2" y="138.7" font-size="16" text-anchor="middle" stroke="#161616" stroke-width="0.72" stroke-linejoin="round" fill="#161616">BUEIROS</text>
<text x="1238.2" y="139.2" font-size="15.5" stroke="#161616" stroke-width="0.72" stroke-linejoin="round" fill="#161616">α =15°</text>
<text x="910.8" y="163.5" font-size="15.8" text-anchor="middle" stroke="#161616" stroke-width="0.64" stroke-linejoin="round" fill="#161616">1,50 x 1,50 m</text>
<text x="1021.32" y="163.5" font-size="15.8" text-anchor="middle" stroke="#161616" stroke-width="0.64" stroke-linejoin="round" fill="#161616">2,00 x 2,00 m</text>
<text x="1131.84" y="163.5" font-size="15.8" text-anchor="middle" stroke="#161616" stroke-width="0.64" stroke-linejoin="round" fill="#161616">2,50 x 2,50 m</text>
<text x="1242.36" y="163.5" font-size="15.8" text-anchor="middle" stroke="#161616" stroke-width="0.64" stroke-linejoin="round" fill="#161616">3,00 x 3,00 m</text>
<text x="1518.28" y="138.7" font-size="16" text-anchor="middle" stroke="#161616" stroke-width="0.72" stroke-linejoin="round" fill="#161616">BUEIROS</text>
<text x="1680.28" y="139.2" font-size="15.5" stroke="#161616" stroke-width="0.72" stroke-linejoin="round" fill="#161616">α =30°</text>
<text x="1352.88" y="163.5" font-size="15.8" text-anchor="middle" stroke="#161616" stroke-width="0.64" stroke-linejoin="round" fill="#161616">1,50 x 1,50 m</text>
<text x="1463.4" y="163.5" font-size="15.8" text-anchor="middle" stroke="#161616" stroke-width="0.64" stroke-linejoin="round" fill="#161616">2,00 x 2,00 m</text>
<text x="1573.92" y="163.5" font-size="15.8" text-anchor="middle" stroke="#161616" stroke-width="0.64" stroke-linejoin="round" fill="#161616">2,50 x 2,50 m</text>
<text x="1684.44" y="163.5" font-size="15.8" text-anchor="middle" stroke="#161616" stroke-width="0.64" stroke-linejoin="round" fill="#161616">3,00 x 3,00 m</text>
<text x="1960.36" y="138.7" font-size="16" text-anchor="middle" stroke="#161616" stroke-width="0.72" stroke-linejoin="round" fill="#161616">BUEIROS</text>
<text x="2110.36" y="139.2" font-size="15.5" stroke="#161616" stroke-width="0.72" stroke-linejoin="round" fill="#161616">α =45°</text>
<text x="1794.96" y="163.5" font-size="15.8" text-anchor="middle" stroke="#161616" stroke-width="0.64" stroke-linejoin="round" fill="#161616">1,50 x 1,50 m</text>
<text x="1905.48" y="163.5" font-size="15.8" text-anchor="middle" stroke="#161616" stroke-width="0.64" stroke-linejoin="round" fill="#161616">2,00 x 2,00 m</text>
<text x="2016" y="163.5" font-size="15.8" text-anchor="middle" stroke="#161616" stroke-width="0.64" stroke-linejoin="round" fill="#161616">2,50 x 2,50 m</text>
<text x="2126.52" y="163.5" font-size="15.8" text-anchor="middle" stroke="#161616" stroke-width="0.64" stroke-linejoin="round" fill="#161616">3,00 x 3,00 m</text>
<text x="683" y="185.4" font-size="16.5" textLength="62" lengthAdjust="spacingAndGlyphs" stroke="#161616" stroke-width="0.56" stroke-linejoin="round" fill="#161616">LASTRO</text>
<text x="823" y="185.4" font-size="18" stroke="#161616" stroke-width="0.56" stroke-linejoin="round" fill="#161616">m</text>
<text x="838.6" y="179.9" font-size="12" stroke="#161616" stroke-width="0.56" stroke-linejoin="round" fill="#161616">3</text>
<text x="937.12" y="185.4" font-size="18" text-anchor="end" stroke="#161616" stroke-width="0.56" stroke-linejoin="round" fill="#161616">3,30</text>
<text x="1047.64" y="185.4" font-size="18" text-anchor="end" stroke="#161616" stroke-width="0.56" stroke-linejoin="round" fill="#161616">5,24</text>
<text x="1158.16" y="185.4" font-size="18" text-anchor="end" stroke="#161616" stroke-width="0.56" stroke-linejoin="round" fill="#161616">7,65</text>
<text x="1268.68" y="185.4" font-size="18" text-anchor="end" stroke="#161616" stroke-width="0.56" stroke-linejoin="round" fill="#161616">10,60</text>
<text x="1379.2" y="185.4" font-size="18" text-anchor="end" stroke="#161616" stroke-width="0.56" stroke-linejoin="round" fill="#161616">3,62</text>
<text x="1489.72" y="185.4" font-size="18" text-anchor="end" stroke="#161616" stroke-width="0.56" stroke-linejoin="round" fill="#161616">5,83</text>
<text x="1600.24" y="185.4" font-size="18" text-anchor="end" stroke="#161616" stroke-width="0.56" stroke-linejoin="round" fill="#161616">7,60</text>
<text x="1710.76" y="185.4" font-size="18" text-anchor="end" stroke="#161616" stroke-width="0.56" stroke-linejoin="round" fill="#161616">11,80</text>
<text x="1821.28" y="185.4" font-size="18" text-anchor="end" stroke="#161616" stroke-width="0.56" stroke-linejoin="round" fill="#161616">4,50</text>
<text x="1931.8" y="185.4" font-size="18" text-anchor="end" stroke="#161616" stroke-width="0.56" stroke-linejoin="round" fill="#161616">7,24</text>
<text x="2042.32" y="185.4" font-size="18" text-anchor="end" stroke="#161616" stroke-width="0.56" stroke-linejoin="round" fill="#161616">11,00</text>
<text x="2152.84" y="185.4" font-size="18" text-anchor="end" stroke="#161616" stroke-width="0.56" stroke-linejoin="round" fill="#161616">14,60</text>
<text x="683" y="209" font-size="16.5" textLength="66" lengthAdjust="spacingAndGlyphs" stroke="#161616" stroke-width="0.56" stroke-linejoin="round" fill="#161616">FORMAS</text>
<text x="823" y="209" font-size="18" stroke="#161616" stroke-width="0.56" stroke-linejoin="round" fill="#161616">m</text>
<text x="838.6" y="203.5" font-size="12" stroke="#161616" stroke-width="0.56" stroke-linejoin="round" fill="#161616">2</text>
<text x="937.12" y="209" font-size="18" text-anchor="end" stroke="#161616" stroke-width="0.56" stroke-linejoin="round" fill="#161616">99,00</text>
<text x="1047.64" y="209" font-size="18" text-anchor="end" stroke="#161616" stroke-width="0.56" stroke-linejoin="round" fill="#161616">133,00</text>
<text x="1158.16" y="209" font-size="18" text-anchor="end" stroke="#161616" stroke-width="0.56" stroke-linejoin="round" fill="#161616">170,00</text>
<text x="1268.68" y="209" font-size="18" text-anchor="end" stroke="#161616" stroke-width="0.56" stroke-linejoin="round" fill="#161616">211,00</text>
<text x="1379.2" y="209" font-size="18" text-anchor="end" stroke="#161616" stroke-width="0.56" stroke-linejoin="round" fill="#161616">109,00</text>
<text x="1489.72" y="209" font-size="18" text-anchor="end" stroke="#161616" stroke-width="0.56" stroke-linejoin="round" fill="#161616">147,00</text>
<text x="1600.24" y="209" font-size="18" text-anchor="end" stroke="#161616" stroke-width="0.56" stroke-linejoin="round" fill="#161616">168,00</text>
<text x="1710.76" y="209" font-size="18" text-anchor="end" stroke="#161616" stroke-width="0.56" stroke-linejoin="round" fill="#161616">235,00</text>
<text x="1821.28" y="209" font-size="18" text-anchor="end" stroke="#161616" stroke-width="0.56" stroke-linejoin="round" fill="#161616">133,00</text>
<text x="1931.8" y="209" font-size="18" text-anchor="end" stroke="#161616" stroke-width="0.56" stroke-linejoin="round" fill="#161616">180,00</text>
<text x="2042.32" y="209" font-size="18" text-anchor="end" stroke="#161616" stroke-width="0.56" stroke-linejoin="round" fill="#161616">232,00</text>
<text x="2152.84" y="209" font-size="18" text-anchor="end" stroke="#161616" stroke-width="0.56" stroke-linejoin="round" fill="#161616">289,00</text>
<text x="683" y="232.5" font-size="16.5" textLength="88" lengthAdjust="spacingAndGlyphs" stroke="#161616" stroke-width="0.56" stroke-linejoin="round" fill="#161616">CONCRETO</text>
<text x="823" y="232.5" font-size="18" stroke="#161616" stroke-width="0.56" stroke-linejoin="round" fill="#161616">m</text>
<text x="838.6" y="227" font-size="12" stroke="#161616" stroke-width="0.56" stroke-linejoin="round" fill="#161616">3</text>
<text x="937.12" y="232.5" font-size="18" text-anchor="end" stroke="#161616" stroke-width="0.56" stroke-linejoin="round" fill="#161616">14,10</text>
<text x="1047.64" y="232.5" font-size="18" text-anchor="end" stroke="#161616" stroke-width="0.56" stroke-linejoin="round" fill="#161616">23,86</text>
<text x="1158.16" y="232.5" font-size="18" text-anchor="end" stroke="#161616" stroke-width="0.56" stroke-linejoin="round" fill="#161616">32,55</text>
<text x="1268.68" y="232.5" font-size="18" text-anchor="end" stroke="#161616" stroke-width="0.56" stroke-linejoin="round" fill="#161616">47,53</text>
<text x="1379.2" y="232.5" font-size="18" text-anchor="end" stroke="#161616" stroke-width="0.56" stroke-linejoin="round" fill="#161616">16,00</text>
<text x="1489.72" y="232.5" font-size="18" text-anchor="end" stroke="#161616" stroke-width="0.56" stroke-linejoin="round" fill="#161616">26,00</text>
<text x="1600.24" y="232.5" font-size="18" text-anchor="end" stroke="#161616" stroke-width="0.56" stroke-linejoin="round" fill="#161616">32,21</text>
<text x="1710.76" y="232.5" font-size="18" text-anchor="end" stroke="#161616" stroke-width="0.56" stroke-linejoin="round" fill="#161616">52,88</text>
<text x="1821.28" y="232.5" font-size="18" text-anchor="end" stroke="#161616" stroke-width="0.56" stroke-linejoin="round" fill="#161616">19,50</text>
<text x="1931.8" y="232.5" font-size="18" text-anchor="end" stroke="#161616" stroke-width="0.56" stroke-linejoin="round" fill="#161616">32,25</text>
<text x="2042.32" y="232.5" font-size="18" text-anchor="end" stroke="#161616" stroke-width="0.56" stroke-linejoin="round" fill="#161616">44,53</text>
<text x="2152.84" y="232.5" font-size="18" text-anchor="end" stroke="#161616" stroke-width="0.56" stroke-linejoin="round" fill="#161616">64,57</text>
<text x="683" y="255.7" font-size="16.5" textLength="116.5" lengthAdjust="spacingAndGlyphs" stroke="#161616" stroke-width="0.56" stroke-linejoin="round" fill="#161616">REVESTIMENTO</text>
<text x="823" y="255.7" font-size="18" stroke="#161616" stroke-width="0.56" stroke-linejoin="round" fill="#161616">m</text>
<text x="838.6" y="250.2" font-size="12" stroke="#161616" stroke-width="0.56" stroke-linejoin="round" fill="#161616">3</text>
<text x="937.12" y="255.7" font-size="18" text-anchor="end" stroke="#161616" stroke-width="0.56" stroke-linejoin="round" fill="#161616">0,98</text>
<text x="1047.64" y="255.7" font-size="18" text-anchor="end" stroke="#161616" stroke-width="0.56" stroke-linejoin="round" fill="#161616">1,57</text>
<text x="1158.16" y="255.7" font-size="18" text-anchor="end" stroke="#161616" stroke-width="0.56" stroke-linejoin="round" fill="#161616">2,30</text>
<text x="1268.68" y="255.7" font-size="18" text-anchor="end" stroke="#161616" stroke-width="0.56" stroke-linejoin="round" fill="#161616">3,20</text>
<text x="1379.2" y="255.7" font-size="18" text-anchor="end" stroke="#161616" stroke-width="0.56" stroke-linejoin="round" fill="#161616">1,09</text>
<text x="1489.72" y="255.7" font-size="18" text-anchor="end" stroke="#161616" stroke-width="0.56" stroke-linejoin="round" fill="#161616">1,75</text>
<text x="1600.24" y="255.7" font-size="18" text-anchor="end" stroke="#161616" stroke-width="0.56" stroke-linejoin="round" fill="#161616">2,30</text>
<text x="1710.76" y="255.7" font-size="18" text-anchor="end" stroke="#161616" stroke-width="0.56" stroke-linejoin="round" fill="#161616">3,53</text>
<text x="1821.28" y="255.7" font-size="18" text-anchor="end" stroke="#161616" stroke-width="0.56" stroke-linejoin="round" fill="#161616">1,35</text>
<text x="1931.8" y="255.7" font-size="18" text-anchor="end" stroke="#161616" stroke-width="0.56" stroke-linejoin="round" fill="#161616">2,17</text>
<text x="2042.32" y="255.7" font-size="18" text-anchor="end" stroke="#161616" stroke-width="0.56" stroke-linejoin="round" fill="#161616">3,18</text>
<text x="2152.84" y="255.7" font-size="18" text-anchor="end" stroke="#161616" stroke-width="0.56" stroke-linejoin="round" fill="#161616">4,40</text>
</g>
<text x="1424.4" y="68.7" font-size="24.1" text-anchor="middle" stroke="#161616" stroke-width="0.8" stroke-linejoin="round" fill="#161616">TABELA DE QUANTIDADES DE SERVIÇOS PARA</text>
<text x="1426.7" y="97.1" font-size="24.1" text-anchor="middle" stroke="#161616" stroke-width="0.8" stroke-linejoin="round" fill="#161616">DUAS CABECEIRAS COMPLETAS PARA BUEIROS ESCONSOS</text>
<text x="53" y="1453.4" font-size="16.07" stroke="#161616" stroke-width="0.72" stroke-linejoin="round" fill="#161616">NOTAS:</text>
<text x="53" y="1469.8" font-size="16.07" textLength="609.3" lengthAdjust="spacingAndGlyphs" stroke="#161616" stroke-width="0.72" stroke-linejoin="round" fill="#161616">1 - O DESENHO DAS CABECEIRAS SE APLICA A TODOS OS TIPOS DE BUEIROS</text>
<text x="53" y="1488.8" font-size="16.07" textLength="615.2" lengthAdjust="spacingAndGlyphs" stroke="#161616" stroke-width="0.72" stroke-linejoin="round" fill="#161616">CELULARES ESCONSOS ESTANDO REPRESENTADO O BUEIRO DE 2,00x2,00m ,</text>
<text x="53" y="1507.7" font-size="16.07" textLength="386.4" lengthAdjust="spacingAndGlyphs" stroke="#161616" stroke-width="0.72" stroke-linejoin="round" fill="#161616">NA ESCALA DE 1:100 E DETALHE NA ESCALA 1:20.</text>
<text x="53" y="1529" font-size="16.07" textLength="601.6" lengthAdjust="spacingAndGlyphs" stroke="#161616" stroke-width="0.72" stroke-linejoin="round" fill="#161616">2 - AS QUANTIDADES DE SERVIÇO DA TABELA SÃO PARA DUAS CABECEIRAS</text>
<text x="53" y="1548.2" font-size="16.07" textLength="594.5" lengthAdjust="spacingAndGlyphs" stroke="#161616" stroke-width="0.72" stroke-linejoin="round" fill="#161616">COMPLETAS, ESTANDO COMPUTADAS PORTANTO ALAS (4X) , LAJE DE PISO</text>
<text x="53" y="1570.3" font-size="16.07" textLength="593.1" lengthAdjust="spacingAndGlyphs" stroke="#161616" stroke-width="0.72" stroke-linejoin="round" fill="#161616">DE ENTRE-ALAS (2X), VIGA DE TÔPO DEFINIDA PELO COMPRIMENTO M (2X),</text>
<text x="53" y="1592.1" font-size="16.07" textLength="611.5" lengthAdjust="spacingAndGlyphs" stroke="#161616" stroke-width="0.72" stroke-linejoin="round" fill="#161616">VIGA DE TOPÔ SUPERIOR DO CORPO DO BUEIRO (2X) E VIGA TOPÔ INFERIOR</text>
<text x="53" y="1610.5" font-size="16.07" textLength="218" lengthAdjust="spacingAndGlyphs" stroke="#161616" stroke-width="0.72" stroke-linejoin="round" fill="#161616">DO CORPO DO BUEIRO (2X).</text>
<text x="685.8" y="1464.2" font-size="16.07" textLength="562" lengthAdjust="spacingAndGlyphs" stroke="#161616" stroke-width="0.72" stroke-linejoin="round" fill="#161616">3 - O LASTRO SOB A LAJE DE ENTRE-ALAS É DE CONCRETO MAGRO NA</text>
<text x="685.8" y="1482.6" font-size="16.07" textLength="179.8" lengthAdjust="spacingAndGlyphs" stroke="#161616" stroke-width="0.72" stroke-linejoin="round" fill="#161616">ESPESSURA DE 10 cm .</text>
<text x="685.8" y="1505" font-size="16.07" textLength="603.7" lengthAdjust="spacingAndGlyphs" stroke="#161616" stroke-width="0.72" stroke-linejoin="round" fill="#161616">4 - O REVESTIMENTO SOBRE A LAJE DE ENTRE-ALAS É DE CIMENTO E AREIA</text>
<text x="685.8" y="1527.1" font-size="16.07" textLength="383.7" lengthAdjust="spacingAndGlyphs" stroke="#161616" stroke-width="0.72" stroke-linejoin="round" fill="#161616">(1:3) , ALISADO E DE ESPESSURA MÉDIA DE 3 cm.</text>
<text x="685.8" y="1552" font-size="16.07" textLength="222.8" lengthAdjust="spacingAndGlyphs" stroke="#161616" stroke-width="0.72" stroke-linejoin="round" fill="#161616">5 - CONCRETO fck ≥ 15 MPa .</text>
<text x="685.8" y="1581.5" font-size="16.07" textLength="192" lengthAdjust="spacingAndGlyphs" stroke="#161616" stroke-width="0.72" stroke-linejoin="round" fill="#161616">6 - VEÍCULO CLASSE 45 .</text>
<text x="685.8" y="1609.2" font-size="16.07" textLength="571.4" lengthAdjust="spacingAndGlyphs" stroke="#161616" stroke-width="0.72" stroke-linejoin="round" fill="#161616">7 - NOMENCLATURA : fs - TENSÃO ADMISSÍVEL DO SOLO SOB A GALERIA.</text>
<path d="M1447.5,1441.6L1447.5,1616.5L1450.1,1616.5L1450.1,1441.6Z" fill="#161616"/>
<path d="M1448.8,1495.45L2249.5,1495.45L2249.5,1493.55L1448.8,1493.55Z" fill="#161616"/>
<path d="M1448.8,1572.25L2249.5,1572.25L2249.5,1570.35L1448.8,1570.35Z" fill="#161616"/>
<path d="M1506.15,1441.6L1506.15,1494.5L1508.05,1494.5L1508.05,1441.6Z" fill="#161616"/>
<path d="M2115.25,1441.6L2115.25,1494.5L2117.15,1494.5L2117.15,1441.6Z" fill="#161616"/>
<path d="M2115.25,1571.3L2115.25,1616.5L2117.15,1616.5L2117.15,1571.3Z" fill="#161616"/>
<text x="1460" y="1480.4" font-size="29" textLength="32.6" lengthAdjust="spacingAndGlyphs" fill="#161616">MT</text>
<text x="1515.5" y="1477.5" font-size="17" textLength="594.3" lengthAdjust="spacingAndGlyphs" stroke="#161616" stroke-width="0.56" stroke-linejoin="round" word-spacing="11.5" fill="#161616">DEPARTAMENTO NACIONAL DE INFRA–ESTRUTURA DE TRANSPORTES – DNIT</text>
<text x="1590.4" y="1531.8" font-size="22.8" textLength="509" lengthAdjust="spacingAndGlyphs" word-spacing="11.6" fill="#161616">BUEIROS DUPLOS CELULARES DE CONCRETO</text>
<text x="1676" y="1559.5" font-size="22.8" textLength="338.3" lengthAdjust="spacingAndGlyphs" word-spacing="15.1" fill="#161616">BOCAS ESCONSAS – FORMAS</text>
<text x="1555.3" y="1601.3" font-size="16.5" textLength="449.3" lengthAdjust="spacingAndGlyphs" stroke="#161616" stroke-width="0.64" stroke-linejoin="round" word-spacing="7.3" fill="#161616">ÁLBUM DE PROJETOS–TIPO DE DISPOSITIVOS DE DRENAGEM</text>
<text x="2162.9" y="1480.2" font-size="27.5" textLength="42.3" lengthAdjust="spacingAndGlyphs" fill="#161616">IPR</text>
<text x="2146.4" y="1592.5" font-size="16" textLength="73.7" lengthAdjust="spacingAndGlyphs" stroke="#161616" stroke-width="0.8" stroke-linejoin="round" fill="#161616">DESENHO</text>
<text x="2166.6" y="1606.9" font-size="14.5" textLength="30" lengthAdjust="spacingAndGlyphs" stroke="#161616" stroke-width="0.16" stroke-linejoin="round" fill="#161616">6.30</text>
</g>
<g>

<path d="M720.54,428.77L753.94,547.87L755.86,547.33L722.46,428.23Z" fill="#161616"/>
<path d="M735.74,501.59L747.04,538.69L748.96,538.11L737.66,501.01Z" fill="#161616"/>
<path d="M743.64,521.28L751.64,548.28L753.56,547.72L745.56,520.72Z" fill="#b5b5b5"/>
<path d="M737.04,452.28L750.04,496.58L751.96,496.02L738.96,451.72Z" fill="#161616"/>
<path d="M750.03,496.56L754.4,512.99L756.34,512.47L751.97,496.04ZM756.2,519.75L760.57,536.18L762.51,535.66L758.14,519.24Z" fill="#161616"/>
<path d="M842.44,421.57L858.04,478.27L859.96,477.73L844.36,421.03Z" fill="#161616"/>
<path d="M858.04,478.27L862.56,494.65L864.49,494.12L859.96,477.73ZM864.42,501.4L868.94,517.79L870.87,517.26L866.35,500.87ZM870.8,524.54L874.54,538.07L876.46,537.53L872.73,524Z" fill="#161616"/>
<path d="M850.94,418.47L867.04,475.87L868.96,475.33L852.86,417.93Z" fill="#161616"/>
<path d="M867.04,475.87L871.64,492.24L873.57,491.69L868.96,475.33ZM873.54,498.97L878.14,515.34L880.07,514.8L875.46,498.43ZM880.04,522.08L884.54,538.07L886.46,537.53L881.96,521.54Z" fill="#161616"/>
<path d="M957.03,388.26L968.03,428.76L969.97,428.24L958.97,387.74Z" fill="#161616"/>
<path d="M968.04,428.77L972.58,445.15L974.51,444.61L969.96,428.23ZM974.45,451.89L979,468.27L980.93,467.74L976.38,451.36ZM980.87,475.02L985.42,491.4L987.35,490.87L982.8,474.48ZM987.29,498.15L991.84,514.53L993.76,513.99L989.22,497.61ZM993.71,521.27L998.25,537.65L1000.18,537.12L995.64,520.74Z" fill="#161616"/>
<path d="M958.44,359.28L991.14,472.58L993.06,472.02L960.36,358.72Z" fill="#161616"/>
<path d="M991.13,472.56L1011.03,547.46L1012.97,546.94L993.07,472.04Z" fill="#161616"/>
<path d="M994.83,471.64L1015.13,552.04L1017.07,551.56L996.77,471.16Z" fill="#161616"/>
<path d="M993.13,472.27L1013.13,549.77L1015.27,549.23L995.27,471.73Z" fill="#b5b5b5"/>
<path d="M718.72,440.57L963.72,370.27L963.28,368.73L718.28,439.03Z" fill="#161616"/>
<path d="M720.22,469.37L979.02,394.17L978.58,392.63L719.78,467.83Z" fill="#161616"/>
<path d="M722.15,444.07L728.45,432.7L727.05,431.93L720.75,443.3Z" fill="#161616"/>
<path d="M959.25,376.07L965.55,364.7L964.15,363.93L957.85,375.3Z" fill="#161616"/>
<path d="M730.79,470.44L736.61,459.94L735.21,459.16L729.39,469.66Z" fill="#161616"/>
<path d="M739.29,467.94L745.11,457.44L743.71,456.66L737.89,467.16Z" fill="#161616"/>
<path d="M844.09,437.54L849.91,427.04L848.51,426.26L842.69,436.76Z" fill="#161616"/>
<path d="M852.39,435.14L858.21,424.64L856.81,423.86L850.99,434.36Z" fill="#161616"/>
<path d="M958.99,404.14L964.81,393.64L963.41,392.86L957.59,403.36Z" fill="#161616"/>
<path d="M967.39,401.74L973.21,391.24L971.81,390.46L965.99,400.96Z" fill="#161616"/>
<path d="M731.6,502.4 L760.71,493.88 L759.91,487.23 L761.06,487.24 L764.5,492.63 L764.97,488.37 L766.29,488.46 L769.24,492.2 L771.27,490.79 L786.96,486.19 L786.02,479.59 L787.02,479.64 L790.23,485.1 L790.48,480.9 L791.64,481.04 L794.36,484.85 L796.08,483.52 L816.07,477.67 L815.51,470.95 L816.9,470.89 L820.73,476.17 L821.56,471.8 L823.14,471.81 L826.49,475.44 L829.02,473.87 L875.84,460.16 L874.9,453.56 L875.91,453.61 L879.11,459.07 L879.37,454.87 L880.52,455.01 L883.25,458.82 L884.96,457.49 L901.83,452.55 L900.89,445.95 L901.9,446 L905.1,451.46 L905.36,447.26 L906.51,447.4 L909.24,451.21 L910.95,449.88 L932.24,443.65 L931.68,436.94 L933.07,436.87 L936.9,442.15 L937.73,437.78 L939.32,437.8 L942.67,441.42 L945.2,439.86 L991.5,426.3" fill="none" stroke="#161616" stroke-width="1.8" stroke-linejoin="round"/>
<text x="747.2" y="455.3" font-size="14" text-anchor="middle" stroke="#161616" stroke-width="0.88" stroke-linejoin="round" fill="#161616" transform="rotate(-16 747.2 455.3)">d</text>
<text x="791.8" y="443.5" font-size="14" text-anchor="middle" stroke="#161616" stroke-width="0.88" stroke-linejoin="round" fill="#161616" transform="rotate(-16 791.8 443.5)">L</text>
<text x="836" y="427.6" font-size="14" text-anchor="middle" stroke="#161616" stroke-width="0.88" stroke-linejoin="round" fill="#161616" transform="rotate(-16 836 427.6)">d</text>
<text x="904.8" y="410.8" font-size="14" text-anchor="middle" stroke="#161616" stroke-width="0.88" stroke-linejoin="round" fill="#161616" transform="rotate(-16 904.8 410.8)">L</text>
<text x="974" y="385.5" font-size="14" text-anchor="middle" stroke="#161616" stroke-width="0.88" stroke-linejoin="round" fill="#161616" transform="rotate(-16 974 385.5)">d</text>
<text x="841" y="401" font-size="13.5" text-anchor="middle" textLength="58" lengthAdjust="spacingAndGlyphs" stroke="#161616" stroke-width="0.88" stroke-linejoin="round" fill="#161616" transform="rotate(-16 841 401)">VARIÁVEL</text>
<path d="M725.84,503.14L729.04,513.34L730.56,512.86L727.36,502.66Z" fill="#161616"/>
<path d="M726.03,512.97L741.73,508.27L741.27,506.73L725.57,511.43Z" fill="#161616"/>
<path d="M727.33,516.3L732.67,506.68L731.27,505.9L725.93,515.52Z" fill="#161616"/>
<path d="M735.88,513.46L740.72,504.71L739.32,503.94L734.48,512.69Z" fill="#161616"/>
<text x="709.3" y="513.2" font-size="14" text-anchor="middle" stroke="#161616" stroke-width="0.88" stroke-linejoin="round" fill="#161616">F</text>
<path d="M1001.33,461.56L1022.03,539.56L1023.97,539.04L1003.27,461.04Z" fill="#161616"/>
<path d="M986.31,475.47L1013.71,467.97L1013.29,466.43L985.89,473.93Z" fill="#161616"/>
<path d="M992.63,477.5L997.97,467.88L996.57,467.1L991.23,476.72Z" fill="#161616"/>
<path d="M1003.53,474.6L1008.87,464.98L1007.47,464.2L1002.13,473.82Z" fill="#161616"/>
<text x="1025.6" y="459.6" font-size="14" text-anchor="middle" stroke="#161616" stroke-width="0.88" stroke-linejoin="round" fill="#161616">F</text>
<path d="M731.3,540.3L749.2,540.35L749.2,537.55L731.3,537.5Z" fill="#161616"/>
<path d="M752.5,540.4L1030.6,540.9L1030.6,538.1L752.5,537.6Z" fill="#161616"/>
<path d="M1030.6,540.35L1332.5,541L1332.5,539.4L1030.6,538.75Z" fill="#161616"/>
<path d="M754,548.9L1013.2,549.4L1013.2,546.6L754,546.1Z" fill="#161616"/>
<path d="M748.6,538.4 L751.9,551 L764.3,551 L766.2,556.6 L707.7,760.9" fill="none" stroke="#161616" stroke-width="2.2" stroke-linejoin="miter"/>
<path d="M731.3,538.6 L671.4,750.9" fill="none" stroke="#161616" stroke-width="2.2" stroke-linejoin="miter"/>
<path d="M729.8,513.1 L737,538.6 L748.7,575.4 L695.3,760.9" fill="none" stroke="#161616" stroke-width="2.0" stroke-linejoin="miter"/>
<path d="M1016.1,551.8 L1002.7,551.8 L1005.2,564.9 L1201.6,762.1" fill="none" stroke="#161616" stroke-width="2.2" stroke-linejoin="miter"/>
<path d="M1023,539.3 L1032.9,575.6 L1218.2,762.1" fill="none" stroke="#161616" stroke-width="2.2" stroke-linejoin="miter"/>
<path d="M1030.6,539.5 L1241.4,751.3" fill="none" stroke="#161616" stroke-width="2.2" stroke-linejoin="miter"/>
<path d="M790.8,539.5L790.8,552L792.4,552L792.4,539.5Z" fill="#161616"/>
<path d="M787.15,544.18L794.92,551.95L796.05,550.82L788.28,543.05Z" fill="#161616"/>
<path d="M773.5,558.2L799.8,558.2L799.8,556.6L773.5,556.6Z" fill="#161616"/>
<path d="M787.15,554.08L794.92,561.85L796.05,560.72L788.28,552.95Z" fill="#161616"/>
<path d="M790.8,553.5L790.8,562.5L792.4,562.5L792.4,553.5Z" fill="#161616"/>
<text x="786.6" y="567" font-size="13.5" text-anchor="middle" stroke="#161616" stroke-width="0.88" stroke-linejoin="round" fill="#161616" transform="rotate(-90 786.6 567)">22</text>
<path d="M975.5,539.8L975.5,552L977.1,552L977.1,539.8Z" fill="#161616"/>
<path d="M971.85,544.58L979.62,552.35L980.75,551.22L972.98,543.45Z" fill="#161616"/>
<path d="M972.5,558.6L996.5,558.6L996.5,557L972.5,557Z" fill="#161616"/>
<path d="M971.85,554.48L979.62,562.25L980.75,561.12L972.98,553.35Z" fill="#161616"/>
<path d="M975.5,553.8L975.5,562.8L977.1,562.8L977.1,553.8Z" fill="#161616"/>
<text x="971" y="566.2" font-size="13.5" text-anchor="middle" stroke="#161616" stroke-width="0.88" stroke-linejoin="round" fill="#161616" transform="rotate(-90 971 566.2)">22</text>
<path d="M822.8,497L821.5,764.5L823.1,764.5L824.4,497Z" fill="#161616"/>
<path d="M818.59,535.42L827.07,543.91L828.2,542.78L819.72,534.29Z" fill="#161616"/>
<path d="M818.54,543.82L827.03,552.31L828.16,551.18L819.68,542.69Z" fill="#161616"/>
<path d="M817.55,747.22L826.03,755.71L827.16,754.58L818.68,746.09Z" fill="#161616"/>
<path d="M817.49,758.02L825.98,766.51L827.11,765.38L818.63,756.89Z" fill="#161616"/>
<text x="819" y="509.5" font-size="13.5" text-anchor="middle" stroke="#161616" stroke-width="0.88" stroke-linejoin="round" fill="#161616" transform="rotate(-90 819 509.5)">20</text>
<text x="818.2" y="649" font-size="13.5" text-anchor="middle" stroke="#161616" stroke-width="0.88" stroke-linejoin="round" fill="#161616" transform="rotate(-90 818.2 649)">D</text>
<text x="818.2" y="729.8" font-size="13.5" text-anchor="middle" stroke="#161616" stroke-width="0.88" stroke-linejoin="round" fill="#161616" transform="rotate(-90 818.2 729.8)">20</text>
<path d="M904.8,488.4L904.8,534L907,534L907,488.4Z" fill="#161616"/>
<path d="M905,490.15L923.3,490.2L923.3,488.5L905,488.45Z" fill="#161616"/>
<path d="M940.3,489.4 L923.29,491.65 L923.31,487.05 Z" fill="#161616" stroke="#161616" stroke-width="0.5" stroke-linejoin="miter"/>
<text x="950.3" y="495.6" font-size="24" stroke="#161616" stroke-width="0.88" stroke-linejoin="round" fill="#161616">A´</text>
<path d="M902.4,720L902.3,761.6L904.7,761.6L904.8,720Z" fill="#161616"/>
<path d="M902.4,768.6L902.3,797.4L904.3,797.4L904.4,768.6Z" fill="#161616"/>
<path d="M902.4,797.35L920.2,797.4L920.2,795.7L902.4,795.65Z" fill="#161616"/>
<path d="M937.2,796.6 L920.19,798.85 L920.21,794.25 Z" fill="#161616" stroke="#161616" stroke-width="0.5" stroke-linejoin="miter"/>
<text x="944" y="803.2" font-size="24" stroke="#161616" stroke-width="0.88" stroke-linejoin="round" fill="#161616">A</text>
<path d="M765.2,565.5L765,614L767,614L767.2,565.5Z" fill="#161616"/>
<path d="M769.13,565.65L804.73,702.75L806.67,702.25L771.07,565.15Z" fill="#161616"/>
<path d="M746.2,627.7 Q766.2,635.6 786.2,627.7" fill="none" stroke="#161616" stroke-width="1.6" />
<text x="767" y="627.2" font-size="14" text-anchor="middle" stroke="#161616" stroke-width="0.88" stroke-linejoin="round" fill="#161616">30°</text>
<path d="M736.03,650.78L782.43,660.88L782.77,659.32L736.37,649.22Z" fill="#161616"/>
<path d="M735.82,654.57L745.05,648.58L744.18,647.23L734.95,653.22Z" fill="#161616"/>
<path d="M775.32,663.17L784.55,657.18L783.68,655.83L774.45,661.82Z" fill="#161616"/>
<text x="761.4" y="651.3" font-size="14" text-anchor="middle" stroke="#161616" stroke-width="0.88" stroke-linejoin="round" fill="#161616" transform="rotate(12 761.4 651.3)">100</text>
<path d="M691.26,661.66L738.56,676.26L739.04,674.74L691.74,660.14Z" fill="#161616"/>
<path d="M692.52,665.89L702.23,660.72L701.48,659.31L691.77,664.48Z" fill="#161616"/>
<path d="M717.12,673.49L726.83,668.32L726.08,666.91L716.37,672.08Z" fill="#161616"/>
<path d="M729.42,677.29L739.13,672.12L738.38,670.71L728.67,675.88Z" fill="#161616"/>
<text x="711.8" y="663.4" font-size="14" text-anchor="middle" stroke="#161616" stroke-width="0.88" stroke-linejoin="round" fill="#161616" transform="rotate(16 711.8 663.4)">G</text>
<text x="730" y="667.6" font-size="14" text-anchor="middle" stroke="#666" stroke-width="0.88" stroke-linejoin="round" fill="#666" transform="rotate(16 730 667.6)">F</text>
<path d="M766.2,678.6 Q782.5,678.3 797.8,673.9" fill="none" stroke="#161616" stroke-width="1.6" />
<text x="783" y="675" font-size="14" text-anchor="middle" stroke="#161616" stroke-width="0.88" stroke-linejoin="round" fill="#161616">α</text>
<path d="M809.28,548.87L804.18,567.18L805.82,567.63L810.92,549.33ZM802.04,574.88L796.94,593.19L798.58,593.64L803.68,575.34ZM794.79,600.89L789.7,619.2L791.33,619.65L796.43,601.35ZM787.55,626.9L782.45,645.21L784.09,645.66L789.19,627.36ZM780.31,652.91L775.21,671.22L776.85,671.67L781.94,653.37ZM773.06,678.92L767.97,697.23L769.6,697.68L774.7,679.38ZM765.82,704.93L760.72,723.24L762.36,723.69L767.46,705.39ZM758.58,730.94L753.48,749.25L755.12,749.7L760.21,731.4Z" fill="#161616"/>
<path d="M804.79,695.5L1033.79,670.2L1033.61,668.6L804.61,693.9Z" fill="#161616"/>
<path d="M800.54,699.1L809.87,691.55L808.86,690.3L799.53,697.85Z" fill="#161616"/>
<path d="M1029.54,673.8L1038.87,666.25L1037.86,665L1028.53,672.55Z" fill="#161616"/>
<path d="M802.68,696.39L806.88,706.39L808.72,705.61L804.52,695.61Z" fill="#161616"/>
<text x="918.5" y="678.2" font-size="14" text-anchor="middle" stroke="#161616" stroke-width="0.88" stroke-linejoin="round" fill="#161616" transform="rotate(-6 918.5 678.2)">E</text>
<text x="940" y="694.2" font-size="13.5" text-anchor="middle" textLength="57" lengthAdjust="spacingAndGlyphs" stroke="#161616" stroke-width="0.88" stroke-linejoin="round" fill="#161616" transform="rotate(-6 940 694.2)">VARIÁVEL</text>
<path d="M764.4,665.4L763.5,866.8L765.5,866.8L766.4,665.4Z" fill="#161616"/>
<path d="M1004.3,575.5L1003.9,664.4L1006.1,664.4L1006.5,575.5Z" fill="#161616"/>
<path d="M1003.9,688.4L1003.6,838.6L1005.6,838.6L1005.9,688.4Z" fill="#161616"/>
<path d="M1007.73,575.71L1035.33,679.51L1036.87,679.09L1009.27,575.29Z" fill="#161616"/>
<path d="M1022.1,622.2 Q1035.5,618.5 1046.1,609.8" fill="none" stroke="#161616" stroke-width="1.6" />
<text x="1031.5" y="613" font-size="14" text-anchor="middle" stroke="#161616" stroke-width="0.88" stroke-linejoin="round" fill="#161616" transform="rotate(-30 1031.5 613)">β</text>
<path d="M1005.0,656.5 Q1017.5,656.3 1028.7,652.8" fill="none" stroke="#161616" stroke-width="1.6" />
<text x="1017.4" y="653" font-size="14" text-anchor="middle" stroke="#161616" stroke-width="0.88" stroke-linejoin="round" fill="#161616">α</text>
<path d="M1033.72,672.19L1035.62,682.19L1037.58,681.81L1035.68,671.81Z" fill="#161616"/>
<path d="M927.23,549.06L945.57,567.49L946.71,566.37L928.37,547.94ZM951.92,573.87L970.26,592.3L971.39,591.18L953.05,572.75ZM976.61,598.68L994.95,617.11L996.08,615.99L977.74,597.56ZM1001.3,623.49L1019.63,641.92L1020.77,640.8L1002.43,622.37ZM1025.98,648.3L1044.32,666.73L1045.46,665.61L1027.12,647.18ZM1050.67,673.11L1069.01,691.54L1070.14,690.42L1051.8,671.98ZM1075.36,697.92L1093.7,716.35L1094.83,715.22L1076.49,696.79ZM1100.05,722.73L1118.38,741.16L1119.52,740.03L1101.18,721.6ZM1124.73,747.54L1129.03,751.86L1130.17,750.74L1125.87,746.41Z" fill="#161616"/>
<path d="M1059.84,680.69L1090.14,652.99L1089.06,651.81L1058.76,679.51Z" fill="#161616"/>
<path d="M1058.5,673.5L1058.5,687.5L1060.1,687.5L1060.1,673.5Z" fill="#161616"/>
<path d="M1088.8,644L1088.8,657.5L1090.4,657.5L1090.4,644Z" fill="#161616"/>
<text x="1068.6" y="665.2" font-size="14" text-anchor="middle" stroke="#161616" stroke-width="0.88" stroke-linejoin="round" fill="#161616" transform="rotate(-45 1068.6 665.2)">100</text>
<path d="M1103.67,664.56L1129.57,638.16L1128.43,637.04L1102.53,663.44Z" fill="#161616"/>
<path d="M1102.3,662L1102.3,671.5L1103.9,671.5L1103.9,662Z" fill="#161616"/>
<path d="M1110.6,648.8L1110.6,661.7L1112.2,661.7L1112.2,648.8Z" fill="#161616"/>
<path d="M1128.2,632.2L1128.2,645.1L1129.8,645.1L1129.8,632.2Z" fill="#161616"/>
<text x="1099.5" y="659" font-size="14" text-anchor="middle" stroke="#777" stroke-width="0.88" stroke-linejoin="round" fill="#777" transform="rotate(-45 1099.5 659)">F</text>
<text x="1114.6" y="646.5" font-size="14" text-anchor="middle" stroke="#161616" stroke-width="0.88" stroke-linejoin="round" fill="#161616" transform="rotate(-45 1114.6 646.5)">G</text>
<text x="1186.4" y="649.5" font-size="25" text-anchor="middle" stroke="#161616" stroke-width="0.88" stroke-linejoin="round" fill="#161616" transform="rotate(-43 1186.4 649.5)">B</text>
<path d="M1214.59,677.86L1201.2,663.44L1200.02,664.53L1213.41,678.94Z" fill="#161616"/>
<path d="M1190.4,653 L1202.51,662.22 L1198.71,665.76 Z" fill="#161616" stroke="#161616" stroke-width="0.5" stroke-linejoin="miter"/>
<path d="M1213.81,676.9L1194.71,693.6L1196.29,695.4L1215.39,678.7Z" fill="#161616"/>
<path d="M1187.83,699.36L1183.73,703.06L1185.07,704.54L1189.17,700.84Z" fill="#161616"/>
<path d="M1178.27,707.58L1142.07,739.98L1143.53,741.62L1179.73,709.22Z" fill="#161616"/>
<path d="M1143.89,739.76L1130.39,724.95L1129.21,726.03L1142.71,740.84Z" fill="#161616"/>
<path d="M1119.7,714.4 L1131.72,723.74 L1127.88,727.24 Z" fill="#161616" stroke="#161616" stroke-width="0.5" stroke-linejoin="miter"/>
<text x="1116.3" y="711" font-size="25" text-anchor="middle" stroke="#161616" stroke-width="0.88" stroke-linejoin="round" fill="#161616" transform="rotate(-43 1116.3 711)">B</text>
<path d="M1112.76,688.93L1114.76,693.93L1116.44,693.27L1114.44,688.27Z" fill="#161616"/>
<text x="674.4" y="682.6" font-size="25" text-anchor="middle" stroke="#161616" stroke-width="0.88" stroke-linejoin="round" fill="#161616" transform="rotate(16 674.4 682.6)">B</text>
<path d="M660.86,721.07L666.62,702.92L664.91,702.37L659.14,720.53Z" fill="#161616"/>
<path d="M670,689.3 L668.24,703.43 L663.29,701.86 Z" fill="#161616" stroke="#161616" stroke-width="0.5" stroke-linejoin="miter"/>
<path d="M659.68,721.85L682.78,728.85L683.42,726.75L660.32,719.75Z" fill="#161616"/>
<path d="M690.48,731.05L697.38,733.35L698.02,731.45L691.12,729.15Z" fill="#161616"/>
<path d="M702.75,735.74L725.85,743.44L726.55,741.36L703.45,733.66Z" fill="#161616"/>
<path d="M727.06,742.67L732.92,723.74L731.2,723.21L725.34,742.13Z" fill="#161616"/>
<path d="M736.2,710.1 L734.54,724.24 L729.58,722.7 Z" fill="#161616" stroke="#161616" stroke-width="0.5" stroke-linejoin="miter"/>
<text x="739" y="705" font-size="25" text-anchor="middle" stroke="#161616" stroke-width="0.88" stroke-linejoin="round" fill="#161616" transform="rotate(16 739 705)">B</text>
<path d="M752.8,695.05L757.3,693.45L756.7,691.75L752.2,693.35Z" fill="#161616"/>
<text x="1010.5" y="726.6" font-size="13.5" stroke="#161616" stroke-width="0.88" stroke-linejoin="round" fill="#161616">d=15</text>
<text x="1309.8" y="652" font-size="13.5" text-anchor="middle" stroke="#161616" stroke-width="0.88" stroke-linejoin="round" fill="#161616" transform="rotate(-90 1309.8 652)">VAR.</text>
<path d="M1314.7,533.49L1312.5,768.49L1314.1,768.51L1316.3,533.51Z" fill="#161616"/>
<path d="M1310.59,536.42L1319.08,544.91L1320.21,543.78L1311.72,535.29Z" fill="#161616"/>
<path d="M1308.59,758.92L1317.08,767.41L1318.21,766.28L1309.72,757.79Z" fill="#161616"/>
<path d="M1262.9,763.4L1330.7,763.5L1330.7,761.9L1262.9,761.8Z" fill="#161616"/>
<path d="M657.7,752.3L697.9,752.3L697.9,749.5L657.7,749.5Z" fill="#161616"/>
<path d="M712.3,752.3L730,752.31L730,749.71L712.3,749.7ZM738.2,752.32L755.9,752.33L755.9,749.73L738.2,749.72ZM764.1,752.33L781.8,752.34L781.8,749.74L764.1,749.73ZM790,752.35L807.7,752.36L807.7,749.76L790,749.75ZM815.9,752.36L833.6,752.38L833.6,749.78L815.9,749.76ZM841.8,752.38L859.5,752.39L859.5,749.79L841.8,749.78ZM867.7,752.4L885.4,752.41L885.4,749.81L867.7,749.8ZM893.6,752.41L911.3,752.42L911.3,749.82L893.6,749.81ZM919.5,752.43L937.2,752.44L937.2,749.84L919.5,749.83ZM945.4,752.45L963.1,752.46L963.1,749.86L945.4,749.85ZM971.3,752.46L989,752.47L989,749.87L971.3,749.86ZM997.2,752.48L1014.9,752.49L1014.9,749.89L997.2,749.88ZM1023.1,752.49L1040.8,752.51L1040.8,749.91L1023.1,749.89ZM1049,752.51L1066.7,752.52L1066.7,749.92L1049,749.91ZM1074.9,752.53L1092.6,752.54L1092.6,749.94L1074.9,749.93ZM1100.8,752.54L1118.5,752.55L1118.5,749.95L1100.8,749.94ZM1126.7,752.56L1144.4,752.57L1144.4,749.97L1126.7,749.96ZM1152.6,752.58L1170.3,752.59L1170.3,749.99L1152.6,749.98ZM1178.5,752.59L1192,752.6L1192,750L1178.5,749.99Z" fill="#161616"/>
<path d="M1208,752.7L1260.4,752.7L1260.4,749.9L1208,749.9Z" fill="#161616"/>
<path d="M657.7,762.7L1260.4,763.6L1260.4,761.4L657.7,760.5Z" fill="#161616"/>
<path d="M656.75,749.7L656.25,892.7L658.15,892.7L658.65,749.7Z" fill="#161616"/>
<path d="M1259.45,750.1L1259.25,896.6L1261.15,896.6L1261.35,750.1Z" fill="#161616"/>
<path d="M706.7,778.4L706.7,838.6L708.7,838.6L708.7,778.4Z" fill="#161616"/>
<path d="M1200.9,779.2L1200.9,838.6L1202.9,838.6L1202.9,779.2Z" fill="#161616"/>
<path d="M652.5,826.1L1264.5,826.8L1264.5,825.2L652.5,824.5Z" fill="#161616"/>
<path d="M653.62,830.11L662.11,821.62L660.98,820.49L652.49,828.98Z" fill="#161616"/>
<path d="M704.02,830.16L712.51,821.68L711.38,820.55L702.89,829.03Z" fill="#161616"/>
<path d="M761.02,830.23L769.51,821.74L768.38,820.61L759.89,829.1Z" fill="#161616"/>
<path d="M1000.92,830.49L1009.41,822.01L1008.28,820.87L999.79,829.36Z" fill="#161616"/>
<path d="M1198.22,830.71L1206.71,822.22L1205.58,821.09L1197.09,829.58Z" fill="#161616"/>
<path d="M1256.52,830.77L1265.01,822.29L1263.88,821.16L1255.39,829.64Z" fill="#161616"/>
<text x="681.7" y="821" font-size="13.5" text-anchor="middle" stroke="#161616" stroke-width="0.88" stroke-linejoin="round" fill="#161616">I</text>
<text x="736.4" y="821.11" font-size="13.5" text-anchor="middle" stroke="#161616" stroke-width="0.88" stroke-linejoin="round" fill="#161616">J</text>
<text x="884.2" y="821.41" font-size="13.5" text-anchor="middle" stroke="#161616" stroke-width="0.88" stroke-linejoin="round" fill="#161616">M</text>
<text x="1103.1" y="821.85" font-size="13.5" text-anchor="middle" stroke="#161616" stroke-width="0.88" stroke-linejoin="round" fill="#161616">N</text>
<text x="1230.9" y="822.1" font-size="13.5" text-anchor="middle" stroke="#161616" stroke-width="0.88" stroke-linejoin="round" fill="#161616">I</text>
<text x="860.3" y="840.9" font-size="13.5" textLength="55.7" lengthAdjust="spacingAndGlyphs" stroke="#161616" stroke-width="0.88" stroke-linejoin="round" fill="#161616">VARIÁVEL</text>
<text x="737.2" y="853.5" font-size="13.5" stroke="#161616" stroke-width="0.88" stroke-linejoin="round" fill="#161616">J&gt;0</text>
<text x="767.5" y="853.5" font-size="13.5" stroke="#161616" stroke-width="0.88" stroke-linejoin="round" fill="#161616">J&lt;0</text>
<path d="M726.2,856.2L803.1,856.2L803.1,854.6L726.2,854.6Z" fill="#161616"/>
<circle cx="764.6" cy="855.4" r="1.4" fill="#161616"/><circle cx="726.7" cy="867.3" r="0.9" fill="#161616"/><circle cx="802.3" cy="867.3" r="0.9" fill="#161616"/>
<path d="M652.5,884.9L1264.5,885.3L1264.5,883.7L652.5,883.3Z" fill="#161616"/>
<path d="M653.52,888.91L662.01,880.42L660.88,879.29L652.39,887.78Z" fill="#161616"/>
<path d="M1256.52,889.31L1265.01,880.82L1263.88,879.69L1255.39,888.18Z" fill="#161616"/>
<text x="912.2" y="879.4" font-size="13.5" stroke="#161616" stroke-width="0.88" stroke-linejoin="round" fill="#161616">P</text>
<text x="930" y="879" font-size="13.5" textLength="9" lengthAdjust="spacingAndGlyphs" stroke="#161616" stroke-width="0.88" stroke-linejoin="round" fill="#161616">=</text>
<text x="947.8" y="879.4" font-size="13.5" textLength="56.2" lengthAdjust="spacingAndGlyphs" stroke="#161616" stroke-width="0.88" stroke-linejoin="round" fill="#161616">VARIÁVEL</text>
<text x="1099.3" y="460.8" font-size="24" textLength="110.3" lengthAdjust="spacingAndGlyphs" stroke="#161616" stroke-width="0.8" stroke-linejoin="round" fill="#161616">VISTA EM</text>
<text x="1118.5" y="498.2" font-size="24" textLength="91.1" lengthAdjust="spacingAndGlyphs" stroke="#161616" stroke-width="0.8" stroke-linejoin="round" fill="#161616">PLANTA</text>
<path d="M652,963.5L1264,964.5L1264,962.9L652,961.9Z" fill="#161616"/>
<path d="M652.82,967.51L661.31,959.02L660.18,957.89L651.69,966.38Z" fill="#161616"/>
<path d="M702.72,967.59L711.21,959.1L710.08,957.97L701.59,966.46Z" fill="#161616"/>
<path d="M759.92,967.68L768.41,959.2L767.28,958.06L758.79,966.55Z" fill="#161616"/>
<path d="M1000.22,968.06L1008.71,959.58L1007.58,958.45L999.09,966.93Z" fill="#161616"/>
<path d="M1197.52,968.38L1206.01,959.9L1204.88,958.76L1196.39,967.25Z" fill="#161616"/>
<path d="M1255.62,968.47L1264.11,959.99L1262.98,958.86L1254.49,967.34Z" fill="#161616"/>
<path d="M655.3,949.9L654.6,1141.3L656.6,1141.3L657.3,949.9Z" fill="#161616"/>
<path d="M705.6,949.9L705.3,1109.6L707.3,1109.6L707.6,949.9Z" fill="#161616"/>
<path d="M762.8,949.9L762.7,1004.3L764.3,1004.3L764.4,949.9Z" fill="#161616"/>
<path d="M1003.1,951L1003,1004.2L1004.6,1004.2L1004.7,951Z" fill="#161616"/>
<path d="M1200.5,951L1200.2,1131.7L1201.8,1131.7L1202.1,951Z" fill="#161616"/>
<path d="M1258.5,951L1258,1141.7L1260,1141.7L1260.5,951Z" fill="#161616"/>
<text x="682" y="957.8" font-size="13.5" text-anchor="middle" stroke="#161616" stroke-width="0.8" stroke-linejoin="round" fill="#161616">I</text>
<text x="735.6" y="957.91" font-size="13.5" text-anchor="middle" stroke="#161616" stroke-width="0.8" stroke-linejoin="round" fill="#161616">J</text>
<text x="883.8" y="958.21" font-size="13.5" text-anchor="middle" stroke="#161616" stroke-width="0.8" stroke-linejoin="round" fill="#161616">M</text>
<text x="1102.1" y="958.64" font-size="13.5" text-anchor="middle" stroke="#161616" stroke-width="0.8" stroke-linejoin="round" fill="#161616">N</text>
<text x="1230" y="958.9" font-size="13.5" text-anchor="middle" stroke="#161616" stroke-width="0.8" stroke-linejoin="round" fill="#161616">I</text>
<text x="845" y="977.6" font-size="13.5" textLength="56.5" lengthAdjust="spacingAndGlyphs" stroke="#161616" stroke-width="0.72" stroke-linejoin="round" fill="#161616">VARIÁVEL</text>
<path d="M906.6,926.2L906.5,972L908.7,972L908.8,926.2Z" fill="#161616"/>
<path d="M906.8,927.75L924.6,927.8L924.6,926.1L906.8,926.05Z" fill="#161616"/>
<path d="M941.6,927 L924.59,929.25 L924.61,924.65 Z" fill="#161616" stroke="#161616" stroke-width="0.5" stroke-linejoin="miter"/>
<text x="953" y="933.6" font-size="24" stroke="#161616" stroke-width="0.8" stroke-linejoin="round" fill="#161616">A´</text>
<path d="M739,1010.65L1030.8,1011.05L1030.8,1008.75L739,1008.35Z" fill="#161616"/>
<path d="M739,1008.5L738.9,1043.4L741.5,1043.4L741.6,1008.5Z" fill="#161616"/>
<path d="M741.4,1011 L748.5,1025.5 L741.6,1038.4" fill="none" stroke="#161616" stroke-width="1.7" stroke-linejoin="miter"/>
<path d="M747.43,1025.1L696.63,1148L698.57,1148.8L749.37,1025.9Z" fill="#161616"/>
<path d="M762.03,1010.1L705.53,1148L707.47,1148.8L763.97,1010.9Z" fill="#161616"/>
<path d="M762.2,1009.7L762.2,1041L764.8,1041L764.8,1009.7Z" fill="#161616"/>
<path d="M769.8,1033.6 L870.9,1033.6 L877.1,1039.8 L877.1,1142 L870.9,1148.2 L769.8,1148.2 L763.6,1142 L763.6,1039.8 Z" fill="none" stroke="#161616" stroke-width="2.3" stroke-linejoin="miter"/>
<path d="M895.5,1033.7 L996.4,1033.7 L1002.6,1039.9 L1002.6,1142.2 L996.4,1148.4 L895.5,1148.4 L889.3,1142.2 L889.3,1039.9 Z" fill="none" stroke="#161616" stroke-width="2.3" stroke-linejoin="miter"/>
<path d="M1001.65,1010.49L1001.45,1039.99L1003.75,1040.01L1003.95,1010.51Z" fill="#161616"/>
<path d="M1030.5,1009.8 L1039.8,1025.9 L1213.9,1149.4" fill="none" stroke="#161616" stroke-width="2.2" stroke-linejoin="miter"/>
<path d="M1003.26,1011.79L1196.56,1150.29L1197.84,1148.51L1004.54,1010.01Z" fill="#161616"/>
<path d="M654.8,1150.4L1259.9,1151L1259.9,1148L654.8,1147.4Z" fill="#161616"/>
<path d="M654.8,1154.15L1259.9,1154.65L1259.9,1152.75L654.8,1152.25Z" fill="#161616"/>
<path d="M1258.3,1147.6L1258.3,1154L1260.3,1154L1260.3,1147.6Z" fill="#161616"/>
<path d="M612.2,1151.8 Q618,1148.0 624.4,1149.6 T639.9,1151.8 T655,1152.6" fill="none" stroke="#161616" stroke-width="1.4" />
<path d="M737.42,1155.55L747.4,1166.05L748.55,1164.95L738.58,1154.45Z" fill="#161616"/>
<path d="M743.92,1155.55L753.9,1166.05L755.05,1164.95L745.08,1154.45Z" fill="#161616"/>
<path d="M750.42,1155.55L760.4,1166.05L761.55,1164.95L751.58,1154.45Z" fill="#161616"/>
<path d="M760.55,1166.36L766.15,1160.66L765,1159.54L759.4,1165.24Z" fill="#161616"/>
<path d="M756.92,1155.55L766.9,1166.05L768.05,1164.95L758.08,1154.45Z" fill="#161616"/>
<path d="M763.42,1155.55L773.4,1166.05L774.55,1164.95L764.58,1154.45Z" fill="#161616"/>
<path d="M769.92,1155.55L779.9,1166.05L781.05,1164.95L771.08,1154.45Z" fill="#161616"/>
<path d="M780.05,1166.36L785.65,1160.66L784.5,1159.54L778.9,1165.24Z" fill="#161616"/>
<path d="M776.42,1155.55L786.4,1166.05L787.55,1164.95L777.58,1154.45Z" fill="#161616"/>
<path d="M782.92,1155.55L792.9,1166.05L794.05,1164.95L784.08,1154.45Z" fill="#161616"/>
<path d="M789.42,1155.55L799.4,1166.05L800.55,1164.95L790.58,1154.45Z" fill="#161616"/>
<path d="M799.55,1166.36L805.15,1160.66L804,1159.54L798.4,1165.24Z" fill="#161616"/>
<path d="M795.92,1155.55L805.9,1166.05L807.05,1164.95L797.08,1154.45Z" fill="#161616"/>
<path d="M802.42,1155.55L812.4,1166.05L813.55,1164.95L803.58,1154.45Z" fill="#161616"/>
<path d="M808.92,1155.55L818.9,1166.05L820.05,1164.95L810.08,1154.45Z" fill="#161616"/>
<path d="M819.05,1166.36L824.65,1160.66L823.5,1159.54L817.9,1165.24Z" fill="#161616"/>
<path d="M815.42,1155.55L825.4,1166.05L826.55,1164.95L816.58,1154.45Z" fill="#161616"/>
<path d="M821.92,1155.55L831.9,1166.05L833.05,1164.95L823.08,1154.45Z" fill="#161616"/>
<path d="M828.42,1155.55L838.4,1166.05L839.55,1164.95L829.58,1154.45Z" fill="#161616"/>
<path d="M838.55,1166.36L844.15,1160.66L843,1159.54L837.4,1165.24Z" fill="#161616"/>
<path d="M834.92,1155.55L844.9,1166.05L846.05,1164.95L836.08,1154.45Z" fill="#161616"/>
<path d="M841.42,1155.55L851.4,1166.05L852.55,1164.95L842.58,1154.45Z" fill="#161616"/>
<path d="M847.92,1155.55L857.9,1166.05L859.05,1164.95L849.08,1154.45Z" fill="#161616"/>
<path d="M858.05,1166.36L863.65,1160.66L862.5,1159.54L856.9,1165.24Z" fill="#161616"/>
<path d="M854.42,1155.55L864.4,1166.05L865.55,1164.95L855.58,1154.45Z" fill="#161616"/>
<path d="M860.92,1155.55L870.9,1166.05L872.05,1164.95L862.08,1154.45Z" fill="#161616"/>
<path d="M867.42,1155.55L877.4,1166.05L878.55,1164.95L868.58,1154.45Z" fill="#161616"/>
<path d="M877.55,1166.36L883.15,1160.66L882,1159.54L876.4,1165.24Z" fill="#161616"/>
<path d="M873.92,1155.55L883.9,1166.05L885.05,1164.95L875.08,1154.45Z" fill="#161616"/>
<path d="M880.42,1155.55L890.4,1166.05L891.55,1164.95L881.58,1154.45Z" fill="#161616"/>
<path d="M886.92,1155.55L896.9,1166.05L898.05,1164.95L888.08,1154.45Z" fill="#161616"/>
<path d="M897.05,1166.36L902.65,1160.66L901.5,1159.54L895.9,1165.24Z" fill="#161616"/>
<path d="M893.42,1155.55L903.4,1166.05L904.55,1164.95L894.58,1154.45Z" fill="#161616"/>
<path d="M899.92,1155.55L909.9,1166.05L911.05,1164.95L901.08,1154.45Z" fill="#161616"/>
<path d="M906.42,1155.55L916.4,1166.05L917.55,1164.95L907.58,1154.45Z" fill="#161616"/>
<path d="M916.55,1166.36L922.15,1160.66L921,1159.54L915.4,1165.24Z" fill="#161616"/>
<path d="M912.92,1155.55L922.9,1166.05L924.05,1164.95L914.08,1154.45Z" fill="#161616"/>
<path d="M919.42,1155.55L929.4,1166.05L930.55,1164.95L920.58,1154.45Z" fill="#161616"/>
<path d="M925.92,1155.55L935.9,1166.05L937.05,1164.95L927.08,1154.45Z" fill="#161616"/>
<path d="M936.05,1166.36L941.65,1160.66L940.5,1159.54L934.9,1165.24Z" fill="#161616"/>
<path d="M932.42,1155.55L942.4,1166.05L943.55,1164.95L933.58,1154.45Z" fill="#161616"/>
<path d="M938.92,1155.55L948.9,1166.05L950.05,1164.95L940.08,1154.45Z" fill="#161616"/>
<path d="M945.42,1155.55L955.4,1166.05L956.55,1164.95L946.58,1154.45Z" fill="#161616"/>
<path d="M955.55,1166.36L961.15,1160.66L960,1159.54L954.4,1165.24Z" fill="#161616"/>
<path d="M951.92,1155.55L961.9,1166.05L963.05,1164.95L953.08,1154.45Z" fill="#161616"/>
<path d="M958.42,1155.55L968.4,1166.05L969.55,1164.95L959.58,1154.45Z" fill="#161616"/>
<path d="M964.92,1155.55L974.9,1166.05L976.05,1164.95L966.08,1154.45Z" fill="#161616"/>
<path d="M975.05,1166.36L980.65,1160.66L979.5,1159.54L973.9,1165.24Z" fill="#161616"/>
<path d="M971.42,1155.55L981.4,1166.05L982.55,1164.95L972.58,1154.45Z" fill="#161616"/>
<path d="M977.92,1155.55L987.9,1166.05L989.05,1164.95L979.08,1154.45Z" fill="#161616"/>
<path d="M984.42,1155.55L994.4,1166.05L995.55,1164.95L985.58,1154.45Z" fill="#161616"/>
<path d="M994.55,1166.36L1000.15,1160.66L999,1159.54L993.4,1165.24Z" fill="#161616"/>
<path d="M990.92,1155.55L1000.9,1166.05L1002.05,1164.95L992.08,1154.45Z" fill="#161616"/>
<path d="M997.42,1155.55L1007.4,1166.05L1008.55,1164.95L998.58,1154.45Z" fill="#161616"/>
<path d="M1003.92,1155.55L1013.9,1166.05L1015.05,1164.95L1005.08,1154.45Z" fill="#161616"/>
<path d="M1014.05,1166.36L1019.65,1160.66L1018.5,1159.54L1012.9,1165.24Z" fill="#161616"/>
<path d="M1010.42,1155.55L1020.4,1166.05L1021.55,1164.95L1011.58,1154.45Z" fill="#161616"/>
<path d="M1016.92,1155.55L1026.9,1166.05L1028.05,1164.95L1018.08,1154.45Z" fill="#161616"/>
<path d="M1023.42,1155.55L1033.4,1166.05L1034.55,1164.95L1024.58,1154.45Z" fill="#161616"/>
<path d="M1033.55,1166.36L1039.15,1160.66L1038,1159.54L1032.4,1165.24Z" fill="#161616"/>
<path d="M1029.92,1155.55L1039.9,1166.05L1041.05,1164.95L1031.08,1154.45Z" fill="#161616"/>
<path d="M1036.42,1155.55L1046.4,1166.05L1047.55,1164.95L1037.58,1154.45Z" fill="#161616"/>
<path d="M1042.92,1155.55L1052.9,1166.05L1054.05,1164.95L1044.08,1154.45Z" fill="#161616"/>
<path d="M1053.05,1166.36L1058.65,1160.66L1057.5,1159.54L1051.9,1165.24Z" fill="#161616"/>
<path d="M1049.42,1155.55L1059.4,1166.05L1060.55,1164.95L1050.58,1154.45Z" fill="#161616"/>
<path d="M1055.92,1155.55L1065.9,1166.05L1067.05,1164.95L1057.08,1154.45Z" fill="#161616"/>
<path d="M1062.42,1155.55L1072.4,1166.05L1073.55,1164.95L1063.58,1154.45Z" fill="#161616"/>
<path d="M1072.55,1166.36L1078.15,1160.66L1077,1159.54L1071.4,1165.24Z" fill="#161616"/>
<path d="M1068.92,1155.55L1078.9,1166.05L1080.05,1164.95L1070.08,1154.45Z" fill="#161616"/>
<path d="M1075.42,1155.55L1085.4,1166.05L1086.55,1164.95L1076.58,1154.45Z" fill="#161616"/>
<path d="M1081.92,1155.55L1091.9,1166.05L1093.05,1164.95L1083.08,1154.45Z" fill="#161616"/>
<path d="M1092.05,1166.36L1097.65,1160.66L1096.5,1159.54L1090.9,1165.24Z" fill="#161616"/>
<path d="M1088.42,1155.55L1098.4,1166.05L1099.55,1164.95L1089.58,1154.45Z" fill="#161616"/>
<path d="M1094.92,1155.55L1104.9,1166.05L1106.05,1164.95L1096.08,1154.45Z" fill="#161616"/>
<path d="M1101.42,1155.55L1111.4,1166.05L1112.55,1164.95L1102.58,1154.45Z" fill="#161616"/>
<path d="M1111.55,1166.36L1117.15,1160.66L1116,1159.54L1110.4,1165.24Z" fill="#161616"/>
<path d="M1107.92,1155.55L1117.9,1166.05L1119.05,1164.95L1109.08,1154.45Z" fill="#161616"/>
<path d="M1114.42,1155.55L1124.4,1166.05L1125.55,1164.95L1115.58,1154.45Z" fill="#161616"/>
<path d="M1120.92,1155.55L1130.9,1166.05L1132.05,1164.95L1122.08,1154.45Z" fill="#161616"/>
<path d="M1131.05,1166.36L1136.65,1160.66L1135.5,1159.54L1129.9,1165.24Z" fill="#161616"/>
<path d="M1127.42,1155.55L1137.4,1166.05L1138.55,1164.95L1128.58,1154.45Z" fill="#161616"/>
<path d="M1133.92,1155.55L1143.9,1166.05L1145.05,1164.95L1135.08,1154.45Z" fill="#161616"/>
<path d="M1140.42,1155.55L1150.4,1166.05L1151.55,1164.95L1141.58,1154.45Z" fill="#161616"/>
<path d="M1150.55,1166.36L1156.15,1160.66L1155,1159.54L1149.4,1165.24Z" fill="#161616"/>
<path d="M1146.92,1155.55L1156.9,1166.05L1158.05,1164.95L1148.08,1154.45Z" fill="#161616"/>
<path d="M1153.42,1155.55L1163.4,1166.05L1164.55,1164.95L1154.58,1154.45Z" fill="#161616"/>
<path d="M1159.92,1155.55L1169.9,1166.05L1171.05,1164.95L1161.08,1154.45Z" fill="#161616"/>
<path d="M1170.05,1166.36L1175.65,1160.66L1174.5,1159.54L1168.9,1165.24Z" fill="#161616"/>
<path d="M1166.42,1155.55L1176.4,1166.05L1177.55,1164.95L1167.58,1154.45Z" fill="#161616"/>
<path d="M1172.92,1155.55L1182.9,1166.05L1184.05,1164.95L1174.08,1154.45Z" fill="#161616"/>
<path d="M1179.42,1155.55L1189.4,1166.05L1190.55,1164.95L1180.58,1154.45Z" fill="#161616"/>
<path d="M1189.55,1166.36L1195.15,1160.66L1194,1159.54L1188.4,1165.24Z" fill="#161616"/>
<path d="M1185.92,1155.55L1195.9,1166.05L1197.05,1164.95L1187.08,1154.45Z" fill="#161616"/>
<path d="M1192.42,1155.55L1202.4,1166.05L1203.55,1164.95L1193.58,1154.45Z" fill="#161616"/>
<path d="M1198.92,1155.55L1208.9,1166.05L1210.05,1164.95L1200.08,1154.45Z" fill="#161616"/>
<path d="M1209.05,1166.36L1214.65,1160.66L1213.5,1159.54L1207.9,1165.24Z" fill="#161616"/>
<path d="M1205.42,1155.55L1215.4,1166.05L1216.55,1164.95L1206.58,1154.45Z" fill="#161616"/>
<path d="M1211.92,1155.55L1221.9,1166.05L1223.05,1164.95L1213.08,1154.45Z" fill="#161616"/>
<path d="M1218.42,1155.55L1228.4,1166.05L1229.55,1164.95L1219.58,1154.45Z" fill="#161616"/>
<path d="M1228.55,1166.36L1234.15,1160.66L1233,1159.54L1227.4,1165.24Z" fill="#161616"/>
<path d="M1224.92,1155.55L1234.9,1166.05L1236.05,1164.95L1226.08,1154.45Z" fill="#161616"/>
<path d="M1231.42,1155.55L1241.4,1166.05L1242.55,1164.95L1232.58,1154.45Z" fill="#161616"/>
<path d="M1237.92,1155.55L1247.9,1166.05L1249.05,1164.95L1239.08,1154.45Z" fill="#161616"/>
<path d="M1248.05,1166.36L1253.65,1160.66L1252.5,1159.54L1246.9,1165.24Z" fill="#161616"/>
<path d="M1244.42,1155.55L1254.4,1166.05L1255.55,1164.95L1245.58,1154.45Z" fill="#161616"/>
<path d="M1250.92,1155.55L1260.9,1166.05L1262.05,1164.95L1252.08,1154.45Z" fill="#161616"/>
<path d="M1257.42,1155.55L1267.4,1166.05L1268.55,1164.95L1258.58,1154.45Z" fill="#161616"/>
<path d="M1267.55,1166.36L1273.15,1160.66L1272,1159.54L1266.4,1165.24Z" fill="#161616"/>
<path d="M1263.92,1155.55L1273.9,1166.05L1275.05,1164.95L1265.08,1154.45Z" fill="#161616"/>
<path d="M1270.42,1155.55L1280.4,1166.05L1281.55,1164.95L1271.58,1154.45Z" fill="#161616"/>
<path d="M1276.92,1155.55L1286.9,1166.05L1288.05,1164.95L1278.08,1154.45Z" fill="#161616"/>
<path d="M1287.05,1166.36L1292.65,1160.66L1291.5,1159.54L1285.9,1165.24Z" fill="#161616"/>
<path d="M1283.42,1155.55L1293.4,1166.05L1294.55,1164.95L1284.58,1154.45Z" fill="#161616"/>
<path d="M1289.92,1155.55L1299.9,1166.05L1301.05,1164.95L1291.08,1154.45Z" fill="#161616"/>
<path d="M1296.42,1155.55L1306.4,1166.05L1307.55,1164.95L1297.58,1154.45Z" fill="#161616"/>
<path d="M1306.55,1166.36L1312.15,1160.66L1311,1159.54L1305.4,1165.24Z" fill="#161616"/>
<path d="M1302.92,1155.55L1312.9,1166.05L1314.05,1164.95L1304.08,1154.45Z" fill="#161616"/>
<path d="M1309.42,1155.55L1319.4,1166.05L1320.55,1164.95L1310.58,1154.45Z" fill="#161616"/>
<path d="M1259.3,1153.4 Q1290,1154.2 1322.5,1151.9" fill="none" stroke="#161616" stroke-width="1.3" />
<path d="M655,1190.45L672,1190.47L672,1188.37L655,1188.35ZM680.5,1190.48L697.5,1190.5L697.5,1188.4L680.5,1188.38ZM706,1190.51L723,1190.53L723,1188.43L706,1188.41ZM731.5,1190.54L748.5,1190.56L748.5,1188.46L731.5,1188.44ZM757,1190.57L774,1190.59L774,1188.49L757,1188.47ZM782.5,1190.6L799.5,1190.62L799.5,1188.52L782.5,1188.5ZM808,1190.63L825,1190.65L825,1188.55L808,1188.53ZM833.5,1190.66L850.5,1190.68L850.5,1188.58L833.5,1188.56ZM859,1190.69L876,1190.71L876,1188.61L859,1188.59ZM884.5,1190.72L901.5,1190.74L901.5,1188.64L884.5,1188.62ZM910,1190.75L927,1190.77L927,1188.67L910,1188.65ZM935.5,1190.77L952.5,1190.79L952.5,1188.69L935.5,1188.67ZM961,1190.8L978,1190.82L978,1188.72L961,1188.7ZM986.5,1190.83L1003.5,1190.85L1003.5,1188.75L986.5,1188.73ZM1012,1190.86L1029,1190.88L1029,1188.78L1012,1188.76ZM1037.5,1190.89L1054.5,1190.91L1054.5,1188.81L1037.5,1188.79ZM1063,1190.92L1080,1190.94L1080,1188.84L1063,1188.82ZM1088.5,1190.95L1105.5,1190.97L1105.5,1188.87L1088.5,1188.85ZM1114,1190.98L1131,1191L1131,1188.9L1114,1188.88ZM1139.5,1191.01L1156.5,1191.03L1156.5,1188.93L1139.5,1188.91ZM1165,1191.04L1182,1191.06L1182,1188.96L1165,1188.94ZM1190.5,1191.07L1207.5,1191.09L1207.5,1188.99L1190.5,1188.97ZM1216,1191.1L1233,1191.12L1233,1189.02L1216,1189ZM1241.5,1191.13L1258.5,1191.15L1258.5,1189.05L1241.5,1189.03Z" fill="#161616"/>
<path d="M654,1156L654,1168L656,1168L656,1156ZM654,1176L654,1189.4L656,1189.4L656,1176Z" fill="#161616"/>
<path d="M1258.3,1177L1258.3,1190.4L1260.3,1190.4L1260.3,1177Z" fill="#161616"/>
<path d="M823.8,1005L823.2,1195L824.8,1195L825.4,1005Z" fill="#161616"/>
<path d="M819.68,1005.92L828.16,1014.41L829.29,1013.28L820.81,1004.79Z" fill="#161616"/>
<path d="M819.61,1030.02L828.09,1038.51L829.22,1037.38L820.74,1028.89Z" fill="#161616"/>
<path d="M819.26,1145.32L827.74,1153.81L828.88,1152.68L820.39,1144.19Z" fill="#161616"/>
<path d="M819.14,1185.92L827.62,1194.41L828.75,1193.28L820.27,1184.79Z" fill="#161616"/>
<text x="808.6" y="1021.4" font-size="13.5" text-anchor="middle" stroke="#161616" stroke-width="0.8" stroke-linejoin="round" fill="#161616" transform="rotate(-90 808.6 1021.4)">50</text>
<text x="819.6" y="1091.8" font-size="13.5" text-anchor="middle" stroke="#161616" stroke-width="0.8" stroke-linejoin="round" fill="#161616" transform="rotate(-90 819.6 1091.8)">L</text>
<text x="808.6" y="1175.4" font-size="13.5" text-anchor="middle" stroke="#161616" stroke-width="0.8" stroke-linejoin="round" fill="#161616" transform="rotate(-90 808.6 1175.4)">80</text>
<path d="M913.35,1171.6L913.25,1198.5L915.55,1198.5L915.65,1171.6Z" fill="#161616"/>
<path d="M913.25,1205.5L913.25,1211L915.55,1211L915.55,1205.5Z" fill="#161616"/>
<path d="M913.15,1217.5L913.05,1248.6L915.35,1248.6L915.45,1217.5Z" fill="#161616"/>
<path d="M913.2,1248.45L931.2,1248.5L931.2,1246.8L913.2,1246.75Z" fill="#161616"/>
<path d="M948.2,1247.7 L931.19,1249.95 L931.21,1245.35 Z" fill="#161616" stroke="#161616" stroke-width="0.5" stroke-linejoin="miter"/>
<text x="954.5" y="1254.8" font-size="24" stroke="#161616" stroke-width="0.8" stroke-linejoin="round" fill="#161616">A</text>
<text x="1559.7" y="384.9" font-size="24.3" textLength="367" lengthAdjust="spacingAndGlyphs" stroke="#161616" stroke-width="0.8" stroke-linejoin="round" fill="#161616">DETALHE DA VISTA EM PLANTA</text>
<path d="M1558.7,529.07L1932.7,433.06L1932.3,431.52L1558.3,527.52Z" fill="#161616"/>
<path d="M1560.84,532.33L1566.34,522.8L1564.96,522L1559.46,531.53Z" fill="#161616"/>
<path d="M1602.04,521.75L1607.54,512.23L1606.16,511.43L1600.66,520.95Z" fill="#161616"/>
<path d="M1609.44,519.85L1614.94,510.33L1613.56,509.53L1608.06,519.05Z" fill="#161616"/>
<path d="M1874.94,451.7L1880.44,442.17L1879.06,441.37L1873.56,450.9Z" fill="#161616"/>
<path d="M1884.94,449.13L1890.44,439.61L1889.06,438.81L1883.56,448.33Z" fill="#161616"/>
<path d="M1926.84,438.38L1932.34,428.85L1930.96,428.05L1925.46,437.58Z" fill="#161616"/>
<path d="M1558.73,512.94L1589.53,635.94L1591.47,635.46L1560.67,512.46Z" fill="#161616"/>
<path d="M1592.9,644.6 L1642.2,844.5 L1647.8,862 L1635.8,915.6" fill="none" stroke="#161616" stroke-width="2.0" stroke-linejoin="miter"/>
<path d="M1599.8,501.7 L1635.8,644.6" fill="none" stroke="#161616" stroke-width="2.0" stroke-linejoin="miter"/>
<path d="M1636.7,644.6 L1650.5,704.6" fill="none" stroke="#161616" stroke-width="2.1" stroke-linejoin="miter"/>
<path d="M1607.34,500.08L1615.14,526.88L1617.06,526.32L1609.26,499.52Z" fill="#161616"/>
<path d="M1615.13,532.35L1644.03,644.85L1645.97,644.35L1617.07,531.85Z" fill="#161616"/>
<path d="M1644.88,646.14L1656.88,696.34L1658.92,695.86L1646.92,645.66Z" fill="#161616"/>
<path d="M1659.43,528.75L1663.57,544.82L1665.51,544.33L1661.37,528.25ZM1665.02,550.44L1669.16,566.52L1671.09,566.02L1666.95,549.94ZM1670.6,572.13L1674.74,588.21L1676.68,587.71L1672.54,571.63ZM1676.19,593.83L1680.33,609.9L1682.27,609.4L1678.13,593.33ZM1681.78,615.52L1685.92,631.59L1687.85,631.09L1683.71,615.02ZM1687.36,637.21L1689.33,644.85L1691.27,644.35L1689.3,636.71Z" fill="#161616"/>
<path d="M1849.73,502.86L1854.05,518.89L1855.98,518.37L1851.67,502.34ZM1855.55,524.49L1859.87,540.52L1861.8,540L1857.48,523.97ZM1861.37,546.12L1865.68,562.15L1867.62,561.63L1863.3,545.6ZM1867.19,567.75L1871.5,583.78L1873.44,583.26L1869.12,567.23ZM1873.01,589.38L1877.32,605.41L1879.25,604.89L1874.94,588.86ZM1878.83,611.01L1883.14,627.04L1885.07,626.53L1880.76,610.5ZM1884.65,632.65L1887.93,644.86L1889.87,644.34L1886.58,632.13Z" fill="#161616"/>
<path d="M1872.8,425.6 L1930.2,644.6 L1945,696.1" fill="none" stroke="#161616" stroke-width="2.0" stroke-linejoin="miter"/>
<path d="M1882.4,422.4 L1939.4,644.6 L1956.1,704.6" fill="none" stroke="#161616" stroke-width="2.0" stroke-linejoin="miter"/>
<path d="M1922.73,410.64L1980.03,637.74L1981.97,637.26L1924.67,410.16Z" fill="#161616"/>
<path d="M1983.4,644.6 L2024.4,797.3 L2027.2,808.4 L2067.8,858.3" fill="none" stroke="#161616" stroke-width="2.0" stroke-linejoin="miter"/>
<path d="M1592,645.65L1636,645.75L1636,643.25L1592,643.15Z" fill="#161616"/>
<path d="M1645,645.75L1930.4,645.95L1930.4,643.45L1645,643.25Z" fill="#161616"/>
<path d="M1939.4,645.95L1984.2,646.05L1984.2,643.55L1939.4,643.45Z" fill="#161616"/>
<path d="M1657,697.35L1945.6,697.45L1945.6,694.95L1657,694.85Z" fill="#161616"/>
<path d="M1649.6,705.85L1957,705.95L1957,703.45L1649.6,703.35Z" fill="#161616"/>
<path d="M1653.23,713.54L1685.83,846.44L1687.77,845.96L1655.17,713.06Z" fill="#161616"/>
<path d="M1705,704.6 L1719.8,764.1 L1678.2,920" fill="none" stroke="#161616" stroke-width="2.0" stroke-linejoin="miter"/>
<circle cx="1719.8" cy="764.1" r="2.3" fill="#161616"/>
<path d="M1722.5,765.15L1739,765.16L1739,763.06L1722.5,763.05ZM1747.2,765.16L1763.7,765.17L1763.7,763.07L1747.2,763.06ZM1771.9,765.17L1788.4,765.18L1788.4,763.08L1771.9,763.07ZM1796.6,765.19L1813.1,765.2L1813.1,763.1L1796.6,763.09ZM1821.3,765.2L1837.8,765.21L1837.8,763.11L1821.3,763.1ZM1846,765.21L1862.5,765.22L1862.5,763.12L1846,763.11ZM1870.7,765.22L1887.2,765.23L1887.2,763.13L1870.7,763.12ZM1895.4,765.24L1911.9,765.24L1911.9,763.14L1895.4,763.14ZM1920.1,765.25L1922.1,765.25L1922.1,763.15L1920.1,763.15Z" fill="#161616"/>
<path d="M1905.5,704.6 L1922.1,763.2" fill="none" stroke="#161616" stroke-width="2.0" stroke-linejoin="miter"/>
<path d="M1922.1,763.2 L2026.3,871.2 L2037.3,882.3" fill="none" stroke="#161616" stroke-width="2.4" stroke-linejoin="miter"/>
<path d="M1923.93,772.66L1940.53,834.86L1942.47,834.34L1925.87,772.14Z" fill="#161616"/>
<path d="M1722.53,777.25L1737.43,834.05L1739.37,833.55L1724.47,776.75Z" fill="#161616"/>
<path d="M1957.83,716.36L1986.63,823.06L1988.57,822.54L1959.77,715.84Z" fill="#161616"/>
<path d="M1641.01,845.17L1737.81,819.27L1737.39,817.73L1640.59,843.63Z" fill="#161616"/>
<path d="M1640.94,848.96L1646.44,839.44L1645.06,838.64L1639.56,848.16Z" fill="#161616"/>
<path d="M1681.74,838.06L1687.24,828.54L1685.86,827.74L1680.36,837.26Z" fill="#161616"/>
<path d="M1732.54,824.46L1738.04,814.94L1736.66,814.14L1731.16,823.66Z" fill="#161616"/>
<text x="1661.2" y="833.8" font-size="14" text-anchor="middle" stroke="#161616" stroke-width="0.8" stroke-linejoin="round" fill="#161616" transform="rotate(-15 1661.2 833.8)">F</text>
<text x="1707.6" y="824" font-size="14" text-anchor="middle" stroke="#161616" stroke-width="0.8" stroke-linejoin="round" fill="#161616" transform="rotate(-15 1707.6 824)">VAR.</text>
<path d="M1638.24,895.38L1684.24,904.68L1684.56,903.12L1638.56,893.82Z" fill="#161616"/>
<path d="M1635.92,898.57L1645.15,892.58L1644.28,891.23L1635.05,897.22Z" fill="#161616"/>
<path d="M1678.62,907.27L1687.85,901.28L1686.98,899.93L1677.75,905.92Z" fill="#161616"/>
<text x="1662.5" y="894.8" font-size="14" text-anchor="middle" stroke="#161616" stroke-width="0.8" stroke-linejoin="round" fill="#161616" transform="rotate(12 1662.5 894.8)">F</text>
<path d="M1936.01,822.37L2026.81,797.67L2026.39,796.13L1935.59,820.83Z" fill="#161616"/>
<path d="M1935.54,826.26L1941.04,816.74L1939.66,815.94L1934.16,825.46Z" fill="#161616"/>
<path d="M1981.74,813.76L1987.24,804.24L1985.86,803.44L1980.36,812.96Z" fill="#161616"/>
<path d="M2022.34,802.66L2027.84,793.14L2026.46,792.34L2020.96,801.86Z" fill="#161616"/>
<text x="1958.5" y="810.8" font-size="14" text-anchor="middle" stroke="#161616" stroke-width="0.8" stroke-linejoin="round" fill="#161616" transform="rotate(-15 1958.5 810.8)">VAR.</text>
<rect x="1953" y="798" width="11" height="9" fill="#777" opacity="0.55" transform="rotate(-15 1958 802)"/>
<text x="2002" y="799" font-size="14" text-anchor="middle" stroke="#161616" stroke-width="0.8" stroke-linejoin="round" fill="#161616" transform="rotate(-15 2002 799)">F</text>
<path d="M2026.88,871.76L2056.38,841.26L2055.22,840.14L2025.72,870.64Z" fill="#161616"/>
<path d="M2025,863.8L2025,877.7L2026.6,877.7L2026.6,863.8Z" fill="#161616"/>
<path d="M2055,834.3L2055,848.1L2056.6,848.1L2056.6,834.3Z" fill="#161616"/>
<text x="2034" y="855" font-size="14" text-anchor="middle" stroke="#161616" stroke-width="0.8" stroke-linejoin="round" fill="#161616" transform="rotate(-45 2034 855)">F</text>
<path d="M2069.7,839.8 C2069.53,841.97 2071.02,849.1 2068.7,852.8 C2066.38,856.5 2059.48,858.32 2055.8,862 C2052.12,865.68 2049.68,871.52 2046.6,874.9 C2043.52,878.28 2039.62,879.22 2037.3,882.3 C2034.98,885.38 2033.47,891.55 2032.7,893.4" fill="none" stroke="#161616" stroke-width="1.3" stroke-linejoin="round" stroke-linecap="round"/>
<path d="M1629.7,906.2 C1630.13,907.52 1631.15,912.13 1632.3,914.1 C1633.45,916.07 1634.43,917.35 1636.6,918 C1638.77,918.65 1641.95,918.43 1645.3,918 C1648.65,917.57 1653.65,915.62 1656.7,915.4 C1659.75,915.18 1661.28,915.68 1663.6,916.7 C1665.92,917.72 1668.27,920.42 1670.6,921.5 C1672.93,922.58 1674.98,922.98 1677.6,923.2 C1680.22,923.42 1684.35,923.3 1686.3,922.8 C1688.25,922.3 1688.8,920.63 1689.3,920.2" fill="none" stroke="#161616" stroke-width="1.4" stroke-linejoin="round" stroke-linecap="round"/>
<path d="M1823.9,641L1823.6,768L1825.2,768L1825.5,641Z" fill="#161616"/>
<path d="M1820.15,641.28L1827.92,649.05L1829.05,647.92L1821.28,640.15Z" fill="#161616"/>
<path d="M1820.15,692.78L1827.92,700.55L1829.05,699.42L1821.28,691.65Z" fill="#161616"/>
<path d="M1820.15,701.28L1827.92,709.05L1829.05,707.92L1821.28,700.15Z" fill="#161616"/>
<path d="M1820.15,760.78L1827.92,768.55L1829.05,767.42L1821.28,759.65Z" fill="#161616"/>
<text x="1819.4" y="671.2" font-size="13.5" text-anchor="middle" stroke="#161616" stroke-width="0.8" stroke-linejoin="round" fill="#161616" transform="rotate(-90 1819.4 671.2)">20</text>
<text x="1815.9" y="712.7" font-size="13.5" text-anchor="middle" stroke="#161616" stroke-width="0.8" stroke-linejoin="round" fill="#161616" transform="rotate(-90 1815.9 712.7)">2</text>
<text x="1819.4" y="734.9" font-size="13.5" text-anchor="middle" stroke="#161616" stroke-width="0.8" stroke-linejoin="round" fill="#161616" transform="rotate(-90 1819.4 734.9)">20</text>
<text x="1580.6" y="517.6" font-size="14" text-anchor="middle" stroke="#161616" stroke-width="0.8" stroke-linejoin="round" fill="#161616" transform="rotate(-15 1580.6 517.6)">F</text>
<text x="1615.4" y="502.2" font-size="14" text-anchor="middle" stroke="#161616" stroke-width="0.8" stroke-linejoin="round" fill="#161616">2</text>
<text x="1743.6" y="475.8" font-size="13.5" text-anchor="middle" textLength="58" lengthAdjust="spacingAndGlyphs" stroke="#161616" stroke-width="0.72" stroke-linejoin="round" fill="#161616" transform="rotate(-14.5 1743.6 475.8)">VARIÁVEL</text>
<text x="1868.5" y="439.4" font-size="14" text-anchor="middle" stroke="#161616" stroke-width="0.8" stroke-linejoin="round" fill="#161616">2</text>
<text x="1905" y="433.6" font-size="14" text-anchor="middle" stroke="#161616" stroke-width="0.8" stroke-linejoin="round" fill="#161616" transform="rotate(-10 1905 433.6)">F</text>
<path d="M1607.8,532.1 C1612.87,531.55 1629.43,529.47 1638.2,528.8 C1646.97,528.13 1654.55,528.15 1660.4,528.1 C1666.25,528.05 1668.98,527.98 1673.3,528.5 C1677.62,529.02 1681.67,531.3 1686.3,531.2 C1690.93,531.1 1696.8,527.75 1701.1,527.9 C1705.4,528.05 1708.1,530.32 1712.1,532.1 C1716.1,533.88 1721.08,537.05 1725.1,538.6 C1729.12,540.15 1733.58,539.4 1736.2,541.4 C1738.82,543.4 1739.73,547.52 1740.8,550.6 C1741.87,553.68 1740.6,555.9 1742.6,559.9 C1744.6,563.9 1749.57,569.37 1752.8,574.6 C1756.03,579.83 1759.85,586.05 1762,591.3 C1764.15,596.55 1764.92,600.87 1765.7,606.1 C1766.48,611.33 1765.88,617.3 1766.7,622.7 C1767.52,628.1 1769.18,630.33 1770.6,638.5 C1772.02,646.67 1773.2,663.38 1775.2,671.7 C1777.2,680.02 1781.05,683.17 1782.6,688.4 C1784.15,693.63 1784.18,700.65 1784.5,703.1" fill="none" stroke="#161616" stroke-width="1.15" stroke-linejoin="round" stroke-linecap="round"/>
<path d="M1905.2,498.9 C1904.43,498.43 1902.28,496.35 1900.6,496.1 C1898.92,495.85 1897.25,497.45 1895.1,497.4 C1892.95,497.35 1891.72,495.48 1887.7,495.8 C1883.68,496.12 1877.17,498.02 1871,499.3 C1864.83,500.58 1855.32,502.48 1850.7,503.5 C1846.08,504.52 1845.77,505.47 1843.3,505.4 C1840.83,505.33 1839.9,502.18 1835.9,503.1 C1831.9,504.02 1824.07,509.9 1819.3,510.9 C1814.53,511.9 1811,508.02 1807.3,509.1 C1803.6,510.18 1801.87,513.57 1797.1,517.4 C1792.33,521.23 1783.17,528.25 1778.7,532.1 C1774.23,535.95 1772,537.1 1770.3,540.5 C1768.6,543.9 1768.95,547.42 1768.5,552.5 C1768.05,557.58 1767.3,565.47 1767.6,571 C1767.9,576.53 1769.53,580.47 1770.3,585.7 C1771.07,590.93 1771.73,597.78 1772.2,602.4 C1772.67,607.02 1772.48,610.02 1773.1,613.4 C1773.72,616.78 1775.28,618.27 1775.9,622.7 C1776.52,627.13 1776.45,635.83 1776.8,640 C1777.15,644.17 1776.42,642.1 1778,647.7 C1779.58,653.3 1784.92,667.43 1786.3,673.6 C1787.68,679.77 1785.83,679.78 1786.3,684.7 C1786.77,689.62 1788.63,700.03 1789.1,703.1" fill="none" stroke="#161616" stroke-width="1.15" stroke-linejoin="round" stroke-linecap="round"/>
<text x="1556.1" y="1055.1" font-size="24" textLength="126.6" lengthAdjust="spacingAndGlyphs" stroke="#161616" stroke-width="0.96" stroke-linejoin="round" fill="#161616">SEÇÃO AA´</text>
<text x="1748.8" y="1004.1" font-size="24" textLength="110.6" lengthAdjust="spacingAndGlyphs" stroke="#161616" stroke-width="0.96" stroke-linejoin="round" fill="#161616">VISTA EM</text>
<text x="1740.9" y="1041.5" font-size="24" textLength="126.7" lengthAdjust="spacingAndGlyphs" stroke="#161616" stroke-width="0.96" stroke-linejoin="round" fill="#161616">ELEVAÇÃO</text>
<text x="1909.1" y="1104.3" font-size="24" textLength="128.9" lengthAdjust="spacingAndGlyphs" stroke="#161616" stroke-width="0.96" stroke-linejoin="round" fill="#161616">SEÇÃO BB´</text>
<clipPath id="hc1"><path d="M1419.39,1066.38 L1426.33,1065.56 L1434.1,1065.48 L1441.87,1067.63 L1447.62,1064.32 L1454.22,1064.24 L1458.72,1065.55 L1463.71,1065.35 L1469.46,1068.48 L1474.41,1068.66 L1482.24,1069.4 L1486.44,1071.37 L1490.24,1073.95 L1493.35,1077.83 L1500.19,1080.7 L1505.72,1080.9 L1510.97,1086.73 L1518.16,1089.98 L1523.37,1094.37 L1530.9,1096.9 L1538,1100.36 L1541.52,1104.58 L1545.14,1107.61 L1548.94,1109.44 L1553.57,1114 L1559.69,1116.97 L1564.9,1118.69 L1568.73,1123.52 L1574.31,1125.87 L1578.33,1127.49 L1581.28,1130.42 L1585.99,1136.62 L1592.57,1139.65 L1597.12,1144.2 L1600.91,1146.07 L1602.3,1145.7 L1602.3,1155.6 L1573.7,1138.62 L1547.8,1120.12 L1529.3,1109.02 L1497.9,1090.52 L1479.4,1081.32 L1462.8,1077.62 L1437,1078.52 L1419.4,1079.12 Z"/></clipPath>
<path d="M1425.06,1063.19 L1435.02,1071.54 M1422.42,1066.33 L1432.38,1074.68 M1419.79,1069.47 L1429.75,1077.82 M1417.15,1072.61 L1427.11,1080.96 M1447.93,1070.3 L1439.92,1080.54 M1444.7,1067.77 L1436.69,1078.01 M1441.47,1065.25 L1433.46,1075.49 M1438.24,1062.72 L1430.23,1072.97 M1451.05,1062.29 L1461,1070.64 M1448.41,1065.43 L1458.37,1073.79 M1445.78,1068.57 L1455.73,1076.93 M1443.14,1071.71 L1453.1,1080.07 M1472.48,1069.78 L1464.47,1080.03 M1469.25,1067.26 L1461.24,1077.5 M1466.01,1064.74 L1458.01,1074.98 M1462.78,1062.21 L1454.78,1072.46 M1475.29,1065.06 L1485.25,1073.41 M1472.65,1068.2 L1482.61,1076.56 M1470.02,1071.34 L1479.98,1079.7 M1467.38,1074.48 L1477.34,1082.84 M1495.71,1077.52 L1487.7,1087.76 M1492.48,1074.99 L1484.47,1085.24 M1489.25,1072.47 L1481.24,1082.71 M1486.02,1069.94 L1478.01,1080.19 M1497.02,1075.78 L1506.97,1084.13 M1494.38,1078.92 L1504.34,1087.28 M1491.75,1082.06 L1501.7,1090.42 M1489.11,1085.2 L1499.07,1093.56 M1518.09,1089.93 L1510.09,1100.17 M1514.86,1087.41 L1506.86,1097.65 M1511.63,1084.88 L1503.63,1095.13 M1508.4,1082.36 L1500.39,1092.6 M1519.42,1088.98 L1529.38,1097.33 M1516.78,1092.12 L1526.74,1100.47 M1514.15,1095.26 L1524.1,1103.61 M1511.51,1098.4 L1521.47,1106.75 M1540.43,1103.15 L1532.43,1113.39 M1537.2,1100.62 L1529.2,1110.87 M1533.97,1098.1 L1525.96,1108.34 M1530.74,1095.57 L1522.73,1105.82 M1541.7,1102.28 L1551.66,1110.64 M1539.07,1105.42 L1549.03,1113.78 M1536.43,1108.56 L1546.39,1116.92 M1533.8,1111.7 L1543.76,1120.06 M1561.9,1116.98 L1553.9,1127.22 M1558.67,1114.45 L1550.67,1124.7 M1555.44,1111.93 L1547.44,1122.17 M1552.21,1109.4 L1544.21,1119.65 M1562.61,1116.98 L1572.57,1125.34 M1559.97,1120.12 L1569.93,1128.48 M1557.34,1123.26 L1567.29,1131.62 M1554.7,1126.4 L1564.66,1134.76 M1583.23,1132.07 L1575.23,1142.32 M1580,1129.55 L1572,1139.79 M1576.77,1127.03 L1568.77,1137.27 M1573.54,1124.5 L1565.54,1134.75 M1584.12,1131.82 L1594.08,1140.17 M1581.48,1134.96 L1591.44,1143.32 M1578.85,1138.1 L1588.8,1146.46 M1576.21,1141.24 L1586.17,1149.6 M1604.75,1146.67 L1596.75,1156.91 M1601.52,1144.15 L1593.51,1154.39 M1598.29,1141.62 L1590.28,1151.87 M1595.06,1139.1 L1587.05,1149.34" stroke="#161616" stroke-width="1.6" fill="none" clip-path="url(#hc1)"/>
<path d="M1419.39,1066.38 C1420.54,1066.25 1423.88,1065.71 1426.33,1065.56 C1428.78,1065.41 1431.51,1065.14 1434.1,1065.48 C1436.69,1065.83 1439.62,1067.83 1441.87,1067.63 C1444.12,1067.44 1445.56,1064.89 1447.62,1064.32 C1449.68,1063.76 1452.37,1064.03 1454.22,1064.24 C1456.07,1064.44 1457.14,1065.36 1458.72,1065.55 C1460.3,1065.73 1461.92,1064.86 1463.71,1065.35 C1465.5,1065.84 1467.68,1067.93 1469.46,1068.48 C1471.24,1069.03 1472.28,1068.5 1474.41,1068.66 C1476.54,1068.81 1480.23,1068.95 1482.24,1069.4 C1484.24,1069.85 1485.1,1070.61 1486.44,1071.37 C1487.77,1072.13 1489.09,1072.87 1490.24,1073.95 C1491.4,1075.02 1491.69,1076.7 1493.35,1077.83 C1495.01,1078.95 1498.13,1080.19 1500.19,1080.7 C1502.25,1081.21 1503.92,1079.9 1505.72,1080.9 C1507.51,1081.91 1508.9,1085.22 1510.97,1086.73 C1513.05,1088.25 1516.1,1088.71 1518.16,1089.98 C1520.23,1091.26 1521.25,1093.22 1523.37,1094.37 C1525.49,1095.52 1528.46,1095.9 1530.9,1096.9 C1533.33,1097.9 1536.22,1099.08 1538,1100.36 C1539.77,1101.64 1540.33,1103.37 1541.52,1104.58 C1542.71,1105.79 1543.9,1106.8 1545.14,1107.61 C1546.38,1108.42 1547.53,1108.38 1548.94,1109.44 C1550.34,1110.51 1551.78,1112.74 1553.57,1114 C1555.36,1115.25 1557.8,1116.19 1559.69,1116.97 C1561.58,1117.75 1563.4,1117.6 1564.9,1118.69 C1566.41,1119.78 1567.16,1122.32 1568.73,1123.52 C1570.3,1124.72 1572.71,1125.21 1574.31,1125.87 C1575.91,1126.53 1577.16,1126.73 1578.33,1127.49 C1579.49,1128.24 1580,1128.89 1581.28,1130.42 C1582.56,1131.94 1584.11,1135.08 1585.99,1136.62 C1587.87,1138.16 1590.72,1138.39 1592.57,1139.65 C1594.43,1140.92 1595.73,1143.13 1597.12,1144.2 C1598.51,1145.27 1600.05,1145.82 1600.91,1146.07 C1601.77,1146.32 1602.07,1145.76 1602.3,1145.7" fill="none" stroke="#161616" stroke-width="1.8" stroke-linejoin="round" stroke-linecap="round"/>
<path d="M1601.7,1068.1L1601.6,1147L1603.6,1147L1603.7,1068.1Z" fill="#161616"/>
<path d="M1612.5,1068.1L1612.2,1147L1614.2,1147L1614.5,1068.1Z" fill="#161616"/>
<path d="M1598.6,1078.5L1646.7,1078.6L1646.7,1077L1598.6,1076.9Z" fill="#161616"/>
<path d="M1599.38,1082.15L1607.15,1074.38L1606.02,1073.25L1598.25,1081.02Z" fill="#161616"/>
<path d="M1610.08,1082.15L1617.85,1074.38L1616.72,1073.25L1608.95,1081.02Z" fill="#161616"/>
<text x="1626.3" y="1073.6" font-size="13.5" stroke="#161616" stroke-width="0.8" stroke-linejoin="round" fill="#161616">20</text>
<clipPath id="hc2"><path d="M1501.6,1161.4 L1602.7,1161.4 L1602.7,1145.7 L1613.4,1145.7 L1613,1172.5 L1501.3,1172.5 Z"/></clipPath>
<path d="M1465,1172.5 L1491.8,1145.7 M1474.5,1172.5 L1501.3,1145.7 M1484,1172.5 L1510.8,1145.7 M1493.5,1172.5 L1520.3,1145.7 M1503,1172.5 L1529.8,1145.7 M1512.5,1172.5 L1539.3,1145.7 M1522,1172.5 L1548.8,1145.7 M1531.5,1172.5 L1558.3,1145.7 M1541,1172.5 L1567.8,1145.7 M1550.5,1172.5 L1577.3,1145.7 M1560,1172.5 L1586.8,1145.7 M1569.5,1172.5 L1596.3,1145.7 M1579,1172.5 L1605.8,1145.7 M1588.5,1172.5 L1615.3,1145.7 M1598,1172.5 L1624.8,1145.7 M1607.5,1172.5 L1634.3,1145.7 M1617,1172.5 L1643.8,1145.7" stroke="#161616" stroke-width="1.6" fill="none" clip-path="url(#hc2)"/>
<path d="M1501.6,1161.4 L1602.7,1161.4 L1602.7,1145.7 L1613.4,1145.7 L1613,1172.5 L1501.3,1172.5 Z" fill="none" stroke="#161616" stroke-width="2.2" stroke-linejoin="miter"/>
<path d="M1442.5,1145.8L1572.7,1145.9L1572.7,1143.9L1442.5,1143.8Z" fill="#161616"/>
<path d="M1442.5,1173.5L1494.2,1173.5L1494.2,1171.5L1442.5,1171.5Z" fill="#161616"/>
<path d="M1456.6,1140.5L1456.4,1330.5L1458,1330.5L1458.2,1140.5Z" fill="#161616"/>
<path d="M1452.85,1141.48L1460.62,1149.25L1461.75,1148.12L1453.98,1140.35Z" fill="#161616"/>
<path d="M1452.85,1169.18L1460.62,1176.95L1461.75,1175.82L1453.98,1168.05Z" fill="#161616"/>
<path d="M1452.85,1274.88L1460.62,1282.65L1461.75,1281.52L1453.98,1273.75Z" fill="#161616"/>
<path d="M1452.85,1321.68L1460.62,1329.45L1461.75,1328.32L1453.98,1320.55Z" fill="#161616"/>
<text x="1452.7" y="1158.6" font-size="13.5" text-anchor="middle" stroke="#161616" stroke-width="0.8" stroke-linejoin="round" fill="#161616" transform="rotate(-90 1452.7 1158.6)">50</text>
<text x="1452.7" y="1225.6" font-size="13.5" text-anchor="middle" stroke="#161616" stroke-width="0.8" stroke-linejoin="round" fill="#161616" transform="rotate(-90 1452.7 1225.6)">L</text>
<text x="1452.7" y="1301.8" font-size="13.5" text-anchor="middle" stroke="#161616" stroke-width="0.8" stroke-linejoin="round" fill="#161616" transform="rotate(-90 1452.7 1301.8)">80</text>
<path d="M1442.5,1279.2L1485.9,1279.2L1485.9,1277.2L1442.5,1277.2Z" fill="#161616"/>
<path d="M1441.6,1326.1L1598.6,1326.2L1598.6,1324L1441.6,1323.9Z" fill="#161616"/>
<path d="M1502.6,1153 L1501.2,1172.5 L1499.8,1193.3" fill="none" stroke="#161616" stroke-width="1.9" stroke-linejoin="miter"/>
<path d="M1499.8,1193.3 C1499.18,1194.37 1497.65,1198.32 1496.1,1199.7 C1494.55,1201.08 1491.12,1200.67 1490.5,1201.6 C1489.88,1202.53 1490.85,1204.38 1492.4,1205.3 C1493.95,1206.22 1498.42,1204.48 1499.8,1207.1 C1501.18,1209.72 1501.32,1217.62 1500.7,1221 C1500.08,1224.38 1497.95,1226.02 1496.1,1227.4 C1494.25,1228.78 1490.07,1228.37 1489.6,1229.3 C1489.13,1230.23 1491.77,1231.92 1493.3,1233 C1494.83,1234.08 1498.33,1233.8 1498.8,1235.8 C1499.27,1237.8 1496.1,1242.23 1496.1,1245 C1496.1,1247.77 1498.8,1248.7 1498.8,1252.4 C1498.8,1256.1 1497.93,1264.12 1496.1,1267.2 C1494.27,1270.28 1488.57,1269.52 1487.8,1270.9 C1487.03,1272.28 1490.37,1274.05 1491.5,1275.5 C1492.63,1276.95 1494.08,1278.92 1494.6,1279.6" fill="none" stroke="#161616" stroke-width="1.9" stroke-linejoin="round" stroke-linecap="round"/>
<clipPath id="hc3"><path d="M1495.2,1279.6 L1821,1279.9 L1821,1325.8 L1810.3,1325.8 L1810.3,1290.5 L1495.2,1290.2 Z"/></clipPath>
<path d="M1439.5,1325.8 L1485.7,1279.6 M1449,1325.8 L1495.2,1279.6 M1458.5,1325.8 L1504.7,1279.6 M1468,1325.8 L1514.2,1279.6 M1477.5,1325.8 L1523.7,1279.6 M1487,1325.8 L1533.2,1279.6 M1496.5,1325.8 L1542.7,1279.6 M1506,1325.8 L1552.2,1279.6 M1515.5,1325.8 L1561.7,1279.6 M1525,1325.8 L1571.2,1279.6 M1534.5,1325.8 L1580.7,1279.6 M1544,1325.8 L1590.2,1279.6 M1553.5,1325.8 L1599.7,1279.6 M1563,1325.8 L1609.2,1279.6 M1572.5,1325.8 L1618.7,1279.6 M1582,1325.8 L1628.2,1279.6 M1591.5,1325.8 L1637.7,1279.6 M1601,1325.8 L1647.2,1279.6 M1610.5,1325.8 L1656.7,1279.6 M1620,1325.8 L1666.2,1279.6 M1629.5,1325.8 L1675.7,1279.6 M1639,1325.8 L1685.2,1279.6 M1648.5,1325.8 L1694.7,1279.6 M1658,1325.8 L1704.2,1279.6 M1667.5,1325.8 L1713.7,1279.6 M1677,1325.8 L1723.2,1279.6 M1686.5,1325.8 L1732.7,1279.6 M1696,1325.8 L1742.2,1279.6 M1705.5,1325.8 L1751.7,1279.6 M1715,1325.8 L1761.2,1279.6 M1724.5,1325.8 L1770.7,1279.6 M1734,1325.8 L1780.2,1279.6 M1743.5,1325.8 L1789.7,1279.6 M1753,1325.8 L1799.2,1279.6 M1762.5,1325.8 L1808.7,1279.6 M1772,1325.8 L1818.2,1279.6 M1781.5,1325.8 L1827.7,1279.6 M1791,1325.8 L1837.2,1279.6 M1800.5,1325.8 L1846.7,1279.6 M1810,1325.8 L1856.2,1279.6 M1819.5,1325.8 L1865.7,1279.6 M1829,1325.8 L1875.2,1279.6" stroke="#161616" stroke-width="1.6" fill="none" clip-path="url(#hc3)"/>
<path d="M1495.2,1279.6 L1821,1279.9 L1821,1325.8 L1810.3,1325.8 L1810.3,1290.5 L1495.2,1290.2 Z" fill="none" stroke="#161616" stroke-width="2.2" stroke-linejoin="miter"/>
<g fill="#555"><circle cx="1543.95" cy="1296.54" r="0.96"/><circle cx="1545.35" cy="1296.07" r="0.77"/><circle cx="1515.87" cy="1296.11" r="0.8"/><circle cx="1579.68" cy="1292.35" r="0.62"/><circle cx="1506.01" cy="1298.79" r="0.83"/><circle cx="1500.89" cy="1300.34" r="0.98"/><circle cx="1565.1" cy="1297.04" r="0.54"/><circle cx="1498.07" cy="1296.26" r="0.48"/><circle cx="1516.45" cy="1293.68" r="0.47"/><circle cx="1545.17" cy="1295.46" r="0.91"/><circle cx="1550.96" cy="1297.26" r="0.72"/><circle cx="1565.99" cy="1295.62" r="0.6"/><circle cx="1601.15" cy="1300.46" r="0.91"/><circle cx="1570.75" cy="1294.34" r="0.58"/><circle cx="1526.82" cy="1292.13" r="0.87"/><circle cx="1538.5" cy="1299.12" r="0.66"/><circle cx="1597" cy="1299.13" r="0.45"/><circle cx="1518.5" cy="1299.69" r="0.71"/><circle cx="1599.34" cy="1295.08" r="0.49"/><circle cx="1562.53" cy="1298.51" r="0.6"/><circle cx="1505.64" cy="1294.49" r="0.98"/><circle cx="1576.02" cy="1292.56" r="0.59"/><circle cx="1507.1" cy="1292.04" r="0.89"/><circle cx="1515.14" cy="1296.53" r="0.7"/><circle cx="1516.5" cy="1298.09" r="0.52"/><circle cx="1564.03" cy="1292.55" r="0.68"/><circle cx="1518.83" cy="1293.93" r="0.98"/><circle cx="1580.78" cy="1294.24" r="0.94"/><circle cx="1518.6" cy="1295.05" r="0.92"/><circle cx="1563.83" cy="1292.4" r="0.99"/><circle cx="1518.87" cy="1293.82" r="0.87"/><circle cx="1531.01" cy="1294.17" r="0.49"/><circle cx="1505.95" cy="1296.74" r="0.58"/><circle cx="1559.57" cy="1294.85" r="0.7"/><circle cx="1597.11" cy="1295.85" r="0.77"/><circle cx="1587.4" cy="1293.15" r="0.53"/><circle cx="1591.79" cy="1298.86" r="0.59"/><circle cx="1516.41" cy="1298.15" r="0.97"/><circle cx="1517.12" cy="1300.05" r="0.94"/><circle cx="1559.81" cy="1295.29" r="0.51"/><circle cx="1500.56" cy="1300.16" r="0.58"/><circle cx="1570.41" cy="1293.81" r="0.9"/><circle cx="1559.07" cy="1294.14" r="0.55"/><circle cx="1572.07" cy="1292.12" r="0.58"/><circle cx="1555.18" cy="1299.17" r="0.79"/><circle cx="1525.9" cy="1299.76" r="0.56"/><circle cx="1498.24" cy="1293.92" r="0.7"/><circle cx="1502.84" cy="1293.09" r="0.65"/><circle cx="1556.52" cy="1292.68" r="0.65"/><circle cx="1589.96" cy="1300.32" r="0.81"/><circle cx="1569.01" cy="1296.76" r="0.53"/><circle cx="1500.18" cy="1291.66" r="0.95"/><circle cx="1570.03" cy="1300.16" r="0.46"/><circle cx="1563.24" cy="1295.84" r="0.85"/><circle cx="1529.95" cy="1300.49" r="0.49"/><circle cx="1553.79" cy="1298.13" r="0.95"/><circle cx="1573.82" cy="1297.83" r="0.89"/><circle cx="1592.48" cy="1294.67" r="0.83"/><circle cx="1591" cy="1299.34" r="0.68"/><circle cx="1579.43" cy="1299.27" r="0.77"/><circle cx="1562.06" cy="1294.94" r="0.77"/><circle cx="1560.37" cy="1292.22" r="0.8"/><circle cx="1600.7" cy="1299.42" r="0.85"/><circle cx="1537.25" cy="1298.12" r="0.77"/><circle cx="1542.71" cy="1299.05" r="0.5"/><circle cx="1575.2" cy="1291.77" r="0.78"/></g>
<path d="M1496.1,1301.13 C1497.13,1301.22 1500.61,1301.83 1502.29,1301.63 C1503.98,1301.43 1504.74,1300.1 1506.22,1299.93 C1507.7,1299.76 1509.2,1300.32 1511.17,1300.61 C1513.14,1300.91 1515.9,1301.57 1518.03,1301.7 C1520.17,1301.82 1521.96,1301.59 1523.98,1301.35 C1526.01,1301.12 1528.28,1300.45 1530.19,1300.28 C1532.1,1300.11 1533.34,1300.36 1535.43,1300.32 C1537.51,1300.28 1540.35,1300.09 1542.71,1300.05 C1545.08,1300.01 1547.41,1299.97 1549.62,1300.09 C1551.82,1300.21 1554.04,1300.44 1555.94,1300.78 C1557.84,1301.11 1559.61,1302.21 1561.02,1302.09 C1562.43,1301.97 1562.62,1300.2 1564.4,1300.06 C1566.19,1299.91 1569.89,1300.82 1571.73,1301.22 C1573.56,1301.62 1573.57,1302.64 1575.43,1302.47 C1577.29,1302.29 1580.79,1300.56 1582.89,1300.19 C1585,1299.82 1586.42,1300.03 1588.06,1300.25 C1589.69,1300.47 1591.28,1301.27 1592.73,1301.52 C1594.18,1301.76 1595.49,1301.91 1596.75,1301.71 C1598.01,1301.52 1599.47,1300.45 1600.28,1300.35 C1601.08,1300.24 1601.38,1300.95 1601.6,1301.07" fill="none" stroke="#161616" stroke-width="1.6" stroke-linejoin="round" stroke-linecap="round"/>
<path d="M1495.5,1290.2L1495.5,1301.5L1497.1,1301.5L1497.1,1290.2Z" fill="#161616"/>
<g fill="#555"><circle cx="1664.3" cy="1298.04" r="0.83"/><circle cx="1780.29" cy="1293.35" r="0.58"/><circle cx="1642.32" cy="1293.72" r="0.85"/><circle cx="1638.99" cy="1296.59" r="0.57"/><circle cx="1671.3" cy="1295.66" r="0.91"/><circle cx="1732.95" cy="1291.74" r="0.6"/><circle cx="1642.23" cy="1299.79" r="0.9"/><circle cx="1771.79" cy="1299.37" r="0.86"/><circle cx="1799.94" cy="1299.06" r="0.59"/><circle cx="1780.41" cy="1296.18" r="0.87"/><circle cx="1724.25" cy="1295.64" r="0.65"/><circle cx="1697.86" cy="1294.55" r="0.51"/><circle cx="1774.46" cy="1299.1" r="0.99"/><circle cx="1749.17" cy="1296.81" r="0.86"/><circle cx="1639.9" cy="1297.96" r="0.69"/><circle cx="1648.11" cy="1293.5" r="0.74"/><circle cx="1663.18" cy="1295.92" r="0.78"/><circle cx="1691.17" cy="1292.83" r="0.72"/><circle cx="1659.67" cy="1293.82" r="0.56"/><circle cx="1685.41" cy="1292.29" r="0.81"/><circle cx="1800.8" cy="1295.26" r="0.85"/><circle cx="1796.73" cy="1292.01" r="0.53"/><circle cx="1771.8" cy="1299.48" r="0.8"/><circle cx="1644.79" cy="1295.49" r="0.93"/><circle cx="1787.54" cy="1299.15" r="0.56"/><circle cx="1781.14" cy="1295.12" r="0.84"/><circle cx="1640.32" cy="1300.73" r="0.78"/><circle cx="1755.41" cy="1293.59" r="0.79"/><circle cx="1727.54" cy="1297.16" r="0.65"/><circle cx="1756.39" cy="1294.81" r="0.61"/><circle cx="1645.72" cy="1298.03" r="0.51"/><circle cx="1657.72" cy="1292.25" r="0.8"/><circle cx="1722.68" cy="1296.71" r="0.47"/><circle cx="1699.78" cy="1294.82" r="0.5"/><circle cx="1613.98" cy="1300.98" r="0.52"/><circle cx="1672.65" cy="1294.13" r="0.78"/><circle cx="1628.61" cy="1296.02" r="0.65"/><circle cx="1777.38" cy="1291.65" r="0.63"/><circle cx="1710.97" cy="1300.72" r="0.73"/><circle cx="1706.58" cy="1297.89" r="0.61"/><circle cx="1619.64" cy="1296.31" r="0.95"/><circle cx="1758.49" cy="1294.03" r="0.83"/><circle cx="1780.25" cy="1294.03" r="0.77"/><circle cx="1683.27" cy="1293.9" r="0.61"/><circle cx="1653.46" cy="1294.9" r="0.47"/><circle cx="1691.54" cy="1292.42" r="0.87"/><circle cx="1731.26" cy="1291.64" r="0.88"/><circle cx="1650.82" cy="1296.12" r="0.76"/><circle cx="1678.81" cy="1294.32" r="0.69"/><circle cx="1640.32" cy="1299.72" r="0.51"/><circle cx="1775.22" cy="1293.65" r="0.62"/><circle cx="1689.71" cy="1291.91" r="0.52"/><circle cx="1684.34" cy="1295.75" r="0.93"/><circle cx="1807.91" cy="1292.01" r="0.74"/><circle cx="1638.82" cy="1299.15" r="0.63"/><circle cx="1788.85" cy="1296.73" r="0.52"/><circle cx="1614.37" cy="1293.93" r="0.93"/><circle cx="1642.83" cy="1296.1" r="0.65"/><circle cx="1681.19" cy="1299.14" r="0.57"/><circle cx="1754.56" cy="1297.87" r="0.96"/><circle cx="1715.56" cy="1300.25" r="0.69"/><circle cx="1726.05" cy="1297.43" r="0.91"/><circle cx="1789.77" cy="1292.68" r="0.53"/><circle cx="1718.3" cy="1299.24" r="0.74"/><circle cx="1672.25" cy="1300.64" r="0.61"/><circle cx="1630.47" cy="1292.09" r="0.47"/><circle cx="1756.24" cy="1292.61" r="0.84"/><circle cx="1783.64" cy="1301" r="0.89"/><circle cx="1696.78" cy="1297.45" r="0.91"/><circle cx="1754.1" cy="1294.33" r="0.87"/><circle cx="1634.9" cy="1294.5" r="1"/><circle cx="1706" cy="1294.12" r="0.88"/><circle cx="1701.86" cy="1291.63" r="0.47"/><circle cx="1664.3" cy="1294.72" r="0.97"/><circle cx="1661.99" cy="1299.59" r="0.92"/><circle cx="1695.17" cy="1300.94" r="0.87"/><circle cx="1708.52" cy="1294.06" r="0.7"/><circle cx="1790.65" cy="1296.64" r="0.56"/><circle cx="1687.2" cy="1296.08" r="0.55"/><circle cx="1725.98" cy="1291.92" r="0.9"/><circle cx="1648.52" cy="1292.57" r="0.77"/><circle cx="1673.78" cy="1299.92" r="0.72"/><circle cx="1715.85" cy="1299.44" r="0.57"/><circle cx="1759.86" cy="1297.7" r="0.69"/><circle cx="1801.91" cy="1291.81" r="0.92"/><circle cx="1641.58" cy="1299.49" r="0.53"/><circle cx="1623.93" cy="1296.31" r="0.96"/><circle cx="1663.98" cy="1296.17" r="0.78"/><circle cx="1661.28" cy="1296.59" r="0.46"/><circle cx="1701.7" cy="1298.74" r="0.64"/><circle cx="1656.72" cy="1292.08" r="0.84"/><circle cx="1697.34" cy="1300.19" r="0.86"/><circle cx="1633.13" cy="1300.19" r="0.96"/><circle cx="1773.94" cy="1299.41" r="0.82"/><circle cx="1755.04" cy="1297.87" r="0.77"/><circle cx="1663.94" cy="1292.86" r="0.85"/><circle cx="1730.62" cy="1292.13" r="0.8"/><circle cx="1733.28" cy="1296.41" r="0.88"/><circle cx="1785.6" cy="1295.18" r="0.9"/><circle cx="1711.51" cy="1296.98" r="0.68"/><circle cx="1796.74" cy="1295.78" r="0.97"/><circle cx="1679.87" cy="1297.92" r="0.95"/><circle cx="1747.73" cy="1295.13" r="0.49"/><circle cx="1707.4" cy="1295.49" r="0.9"/><circle cx="1767.53" cy="1300.87" r="0.7"/><circle cx="1694.07" cy="1296.9" r="0.86"/><circle cx="1629.1" cy="1293.63" r="0.53"/><circle cx="1677.19" cy="1294.42" r="0.98"/><circle cx="1654.22" cy="1300.37" r="0.61"/><circle cx="1653.45" cy="1300.76" r="0.5"/><circle cx="1635.58" cy="1292.81" r="0.49"/><circle cx="1689.38" cy="1293.6" r="0.54"/><circle cx="1616.48" cy="1298.16" r="0.48"/><circle cx="1658.88" cy="1296.92" r="0.94"/><circle cx="1742.98" cy="1298.26" r="0.84"/><circle cx="1770.04" cy="1299.62" r="0.54"/><circle cx="1624.02" cy="1297.44" r="0.74"/><circle cx="1715.77" cy="1298.95" r="0.55"/><circle cx="1752.15" cy="1295.61" r="0.68"/><circle cx="1661.48" cy="1294.25" r="0.77"/><circle cx="1722.26" cy="1300.12" r="0.6"/><circle cx="1754.02" cy="1292.51" r="0.81"/><circle cx="1644.97" cy="1299.66" r="0.98"/><circle cx="1663.39" cy="1299.2" r="0.57"/><circle cx="1673.41" cy="1292.57" r="0.69"/><circle cx="1633.9" cy="1298.22" r="0.77"/><circle cx="1695.95" cy="1298.27" r="0.58"/><circle cx="1678.58" cy="1295.02" r="0.45"/><circle cx="1787.67" cy="1292.43" r="0.51"/></g>
<path d="M1613.2,1300.58 C1614.27,1300.81 1617.29,1301.92 1619.59,1302 C1621.9,1302.07 1625.05,1300.97 1627.03,1301 C1629.01,1301.04 1629.68,1302.19 1631.45,1302.21 C1633.22,1302.22 1635.57,1301.23 1637.65,1301.09 C1639.74,1300.94 1641.79,1301.41 1643.96,1301.33 C1646.13,1301.25 1648.85,1300.39 1650.68,1300.61 C1652.52,1300.83 1653.44,1302.58 1654.97,1302.64 C1656.49,1302.71 1657.89,1301.09 1659.84,1300.98 C1661.79,1300.86 1664.88,1301.82 1666.68,1301.94 C1668.48,1302.07 1668.94,1301.94 1670.64,1301.73 C1672.34,1301.53 1674.8,1300.91 1676.86,1300.73 C1678.92,1300.54 1681.2,1300.66 1683.03,1300.62 C1684.85,1300.58 1686.31,1300.15 1687.81,1300.52 C1689.31,1300.89 1690.46,1302.45 1692.01,1302.84 C1693.56,1303.24 1695.37,1303.04 1697.09,1302.88 C1698.8,1302.71 1700.25,1302.01 1702.32,1301.88 C1704.38,1301.75 1707.63,1302.09 1709.46,1302.09 C1711.28,1302.08 1711.6,1302.05 1713.25,1301.83 C1714.89,1301.61 1717.7,1300.65 1719.33,1300.77 C1720.97,1300.89 1721.51,1302.57 1723.05,1302.57 C1724.6,1302.58 1726.8,1301.09 1728.61,1300.8 C1730.42,1300.52 1731.89,1300.73 1733.9,1300.87 C1735.92,1301 1738.96,1301.34 1740.72,1301.6 C1742.48,1301.86 1743.23,1302.52 1744.47,1302.43 C1745.71,1302.33 1746.97,1301.06 1748.16,1301.03 C1749.35,1301 1750.38,1302.12 1751.58,1302.22 C1752.79,1302.33 1754.13,1301.78 1755.38,1301.67 C1756.64,1301.55 1757.42,1301.55 1759.09,1301.55 C1760.76,1301.55 1763.47,1301.69 1765.41,1301.69 C1767.35,1301.69 1768.96,1301.53 1770.71,1301.56 C1772.47,1301.59 1774.45,1301.85 1775.94,1301.85 C1777.43,1301.84 1778.31,1301.42 1779.65,1301.53 C1781,1301.65 1782.03,1302.73 1783.99,1302.55 C1785.95,1302.37 1789.53,1300.54 1791.42,1300.47 C1793.32,1300.4 1793.73,1302.15 1795.35,1302.13 C1796.98,1302.11 1799.13,1300.25 1801.17,1300.35 C1803.2,1300.45 1806.1,1302.58 1807.57,1302.75 C1809.04,1302.93 1809.6,1301.63 1810,1301.4" fill="none" stroke="#161616" stroke-width="1.6" stroke-linejoin="round" stroke-linecap="round"/>
<clipPath id="hc4"><path d="M1601.8,1290.3 L1612.6,1290.3 L1612.6,1325 L1601.8,1325 Z"/></clipPath>
<path d="M1557.6,1325 L1592.3,1290.3 M1567.1,1325 L1601.8,1290.3 M1576.6,1325 L1611.3,1290.3 M1586.1,1325 L1620.8,1290.3 M1595.6,1325 L1630.3,1290.3 M1605.1,1325 L1639.8,1290.3 M1614.6,1325 L1649.3,1290.3" stroke="#161616" stroke-width="1.6" fill="none" clip-path="url(#hc4)"/>
<path d="M1601.8,1290.3 L1612.6,1290.3 L1612.6,1325 L1601.8,1325 Z" fill="none" stroke="#161616" stroke-width="2.0" stroke-linejoin="miter"/>
<path d="M1612.15,1145.7L1611.45,1325L1613.75,1325L1614.45,1145.7Z" fill="#161616"/>
<path d="M1624.3,1155.8L1624.1,1279L1625.5,1279L1625.7,1155.8Z" fill="#161616"/>
<path d="M1614,1317.75L1631,1317.77L1631,1315.67L1614,1315.65ZM1639.5,1317.78L1656.5,1317.79L1656.5,1315.69L1639.5,1315.68ZM1665,1317.8L1682,1317.82L1682,1315.72L1665,1315.7ZM1690.5,1317.83L1707.5,1317.85L1707.5,1315.75L1690.5,1315.73ZM1716,1317.85L1733,1317.87L1733,1315.77L1716,1315.75ZM1741.5,1317.88L1758.5,1317.9L1758.5,1315.8L1741.5,1315.78ZM1767,1317.91L1784,1317.92L1784,1315.82L1767,1315.81ZM1792.5,1317.93L1809.5,1317.95L1809.5,1315.85L1792.5,1315.83Z" fill="#161616"/>
<path d="M1612,1326.3L1821.5,1327L1821.5,1324.6L1612,1323.9Z" fill="#161616"/>
<path d="M1612.89,1146.5L1820.49,1279.6L1821.51,1278L1613.91,1144.9Z" fill="#161616"/>
<text x="1651" y="1156" font-size="24" stroke="#161616" stroke-width="0.8" stroke-linejoin="round" fill="#161616">B´</text>
<path d="M1702.8,1147.7L1684.8,1147.7L1684.8,1149.3L1702.8,1149.3Z" fill="#161616"/>
<path d="M1669.8,1148.5 L1684.8,1146.1 L1684.8,1150.9 Z" fill="#161616" stroke="#161616" stroke-width="0.5" stroke-linejoin="miter"/>
<path d="M1701,1147.59L1700.9,1162.49L1703.1,1162.51L1703.2,1147.61Z" fill="#161616"/>
<path d="M1700.9,1168.79L1700.8,1190.49L1703,1190.51L1703.1,1168.81Z" fill="#161616"/>
<path d="M1700.8,1198L1700.7,1226.3L1702.9,1226.3L1703,1198Z" fill="#161616"/>
<text x="1732.6" y="1204.8" font-size="13.5" stroke="#161616" stroke-width="0.8" stroke-linejoin="round" fill="#161616">1,5</text>
<path d="M1719.6,1209.1L1758.9,1209.2L1758.9,1207.2L1719.6,1207.1Z" fill="#161616"/>
<path d="M1757.4,1208.1L1757.3,1233.5L1759.3,1233.5L1759.4,1208.1Z" fill="#161616"/>
<text x="1766" y="1227" font-size="13.5" text-anchor="middle" stroke="#161616" stroke-width="0.8" stroke-linejoin="round" fill="#161616">1</text>
<text x="1794.2" y="1227.1" font-size="17" textLength="121.9" lengthAdjust="spacingAndGlyphs" stroke="#161616" stroke-width="0.72" stroke-linejoin="round" fill="#161616">REVESTIMENTO</text>
<path d="M1761.6,1278.6 L1787.7,1232.1 L1923.5,1232.1 L1948.6,1278.8" fill="none" stroke="#161616" stroke-width="1.7" stroke-linejoin="miter"/>
<path d="M1673.1,1287.5L1672.9,1348.5L1674.5,1348.5L1674.7,1287.5Z" fill="#161616"/>
<path d="M1669.7,1288.23L1676.77,1295.3L1677.9,1294.17L1670.83,1287.1Z" fill="#161616"/>
<path d="M1669.7,1298.33L1676.77,1305.4L1677.9,1304.27L1670.83,1297.2Z" fill="#161616"/>
<text x="1669.8" y="1336.9" font-size="13.5" text-anchor="middle" stroke="#161616" stroke-width="0.8" stroke-linejoin="round" fill="#161616" transform="rotate(-90 1669.8 1336.9)">10</text>
<path d="M1567.2,1377.9L1854.2,1378.5L1854.2,1376.9L1567.2,1376.3Z" fill="#161616"/>
<path d="M1600.4,1338.6L1600.2,1392L1602.2,1392L1602.4,1338.6Z" fill="#161616"/>
<path d="M1597.98,1381.62L1605.75,1373.85L1604.62,1372.71L1596.85,1380.49Z" fill="#161616"/>
<path d="M1610.5,1338.6L1610.3,1392L1612.3,1392L1612.5,1338.6Z" fill="#161616"/>
<path d="M1608.08,1381.64L1615.85,1373.87L1614.72,1372.73L1606.95,1380.51Z" fill="#161616"/>
<path d="M1809.3,1338.6L1809.1,1392L1811.1,1392L1811.3,1338.6Z" fill="#161616"/>
<path d="M1806.88,1382.04L1814.65,1374.26L1813.52,1373.13L1805.75,1380.91Z" fill="#161616"/>
<path d="M1820,1338.6L1819.8,1392L1821.8,1392L1822,1338.6Z" fill="#161616"/>
<path d="M1817.58,1382.06L1825.35,1374.28L1824.22,1373.15L1816.45,1380.93Z" fill="#161616"/>
<text x="1572.7" y="1372.5" font-size="13.5" stroke="#161616" stroke-width="0.8" stroke-linejoin="round" fill="#161616">20</text>
<text x="1833.9" y="1373.4" font-size="13.5" stroke="#161616" stroke-width="0.8" stroke-linejoin="round" fill="#161616">20</text>
<text x="1706.7" y="1372.5" font-size="13.5" stroke="#161616" stroke-width="0.8" stroke-linejoin="round" fill="#161616">D</text>
<path d="M1701.1,1327.2L1701,1360.5L1703.2,1360.5L1703.3,1327.2Z" fill="#161616"/>
<path d="M1701,1366.5L1701,1372L1703.2,1372L1703.2,1366.5Z" fill="#161616"/>
<path d="M1700.9,1380.8L1700.8,1414L1703,1414L1703.1,1380.8Z" fill="#161616"/>
<path d="M1702.8,1412.3L1682,1412.3L1682,1413.9L1702.8,1413.9Z" fill="#161616"/>
<path d="M1667,1413.1 L1682,1410.7 L1682,1415.5 Z" fill="#161616" stroke="#161616" stroke-width="0.5" stroke-linejoin="miter"/>
<text x="1649.2" y="1420.6" font-size="24" stroke="#161616" stroke-width="0.8" stroke-linejoin="round" fill="#161616">B</text>
<path d="M1831.1,1279.9L1875.5,1280L1875.5,1278L1831.1,1277.9Z" fill="#161616"/>
<path d="M1831.1,1326.8L1874.6,1326.9L1874.6,1324.9L1831.1,1324.8Z" fill="#161616"/>
<path d="M1860,1274.6L1859.8,1330.2L1861.4,1330.2L1861.6,1274.6Z" fill="#161616"/>
<path d="M1856.25,1275.58L1864.02,1283.35L1865.15,1282.22L1857.38,1274.45Z" fill="#161616"/>
<path d="M1856.25,1322.48L1864.02,1330.25L1865.15,1329.12L1857.38,1321.35Z" fill="#161616"/>
<text x="1856.1" y="1302.3" font-size="13.5" text-anchor="middle" stroke="#161616" stroke-width="0.8" stroke-linejoin="round" fill="#161616" transform="rotate(-90 1856.1 1302.3)">80</text>
<clipPath id="hc5"><path d="M2010.9,1199.4 L2022,1199.4 L2022,1315.2 L2038.6,1315.2 L2038.6,1325.8 L2010.9,1325.8 Z"/></clipPath>
<path d="M1875,1325.8 L2001.4,1199.4 M1884.5,1325.8 L2010.9,1199.4 M1894,1325.8 L2020.4,1199.4 M1903.5,1325.8 L2029.9,1199.4 M1913,1325.8 L2039.4,1199.4 M1922.5,1325.8 L2048.9,1199.4 M1932,1325.8 L2058.4,1199.4 M1941.5,1325.8 L2067.9,1199.4 M1951,1325.8 L2077.4,1199.4 M1960.5,1325.8 L2086.9,1199.4 M1970,1325.8 L2096.4,1199.4 M1979.5,1325.8 L2105.9,1199.4 M1989,1325.8 L2115.4,1199.4 M1998.5,1325.8 L2124.9,1199.4 M2008,1325.8 L2134.4,1199.4 M2017.5,1325.8 L2143.9,1199.4 M2027,1325.8 L2153.4,1199.4 M2036.5,1325.8 L2162.9,1199.4 M2046,1325.8 L2172.4,1199.4" stroke="#161616" stroke-width="1.6" fill="none" clip-path="url(#hc5)"/>
<path d="M2010.9,1199.4 L2022,1199.4 L2022,1315.2 L2038.6,1315.2 L2038.6,1325.8 L2010.9,1325.8 Z" fill="none" stroke="#161616" stroke-width="2.2" stroke-linejoin="miter"/>
<path d="M2010.2,1141.6L2010.2,1199.4L2011.6,1199.4L2011.6,1141.6Z" fill="#161616"/>
<path d="M2021.3,1141.6L2021.3,1199.4L2022.7,1199.4L2022.7,1141.6Z" fill="#161616"/>
<path d="M2038.3,1141.6L2038.3,1315.2L2039.7,1315.2L2039.7,1141.6Z" fill="#161616"/>
<path d="M2007.6,1150.7L2043.6,1150.7L2043.6,1149.1L2007.6,1149.1Z" fill="#161616"/>
<path d="M2007.58,1154.35L2015.35,1146.58L2014.22,1145.45L2006.45,1153.22Z" fill="#161616"/>
<path d="M2018.68,1154.35L2026.45,1146.58L2025.32,1145.45L2017.55,1153.22Z" fill="#161616"/>
<path d="M2035.68,1154.35L2043.45,1146.58L2042.32,1145.45L2034.55,1153.22Z" fill="#161616"/>
<text x="2016.6" y="1147.1" font-size="13.5" text-anchor="middle" stroke="#161616" stroke-width="0.96" stroke-linejoin="round" fill="#161616">F</text>
<text x="2031" y="1147.1" font-size="13.5" text-anchor="middle" stroke="#161616" stroke-width="0.96" stroke-linejoin="round" fill="#161616">G</text>
<path d="M2089.6,1194.2L2089.4,1331L2091,1331L2091.2,1194.2Z" fill="#161616"/>
<path d="M2024.2,1200.4L2104.6,1200.5L2104.6,1198.5L2024.2,1198.4Z" fill="#161616"/>
<path d="M2040.8,1326.8L2103.7,1326.9L2103.7,1324.9L2040.8,1324.8Z" fill="#161616"/>
<path d="M2085.85,1196.08L2093.62,1203.85L2094.75,1202.72L2086.98,1194.95Z" fill="#161616"/>
<path d="M2085.85,1322.48L2093.62,1330.25L2094.75,1329.12L2086.98,1321.35Z" fill="#161616"/>
<text x="2085.2" y="1263" font-size="13.5" text-anchor="middle" textLength="34.5" lengthAdjust="spacingAndGlyphs" stroke="#161616" stroke-width="0.8" stroke-linejoin="round" fill="#161616" transform="rotate(-90 2085.2 1263)">VARIA</text>
<path d="M2040.8,1316.2L2075,1316.2L2075,1314.2L2040.8,1314.2Z" fill="#161616"/>
<path d="M2051.1,1310.6L2051.1,1351.3L2052.7,1351.3L2052.7,1310.6Z" fill="#161616"/>
<path d="M2047.8,1312.23L2054.87,1319.3L2056,1318.17L2048.93,1311.1Z" fill="#161616"/>
<path d="M2047.8,1322.83L2054.87,1329.9L2056,1328.77L2048.93,1321.7Z" fill="#161616"/>
<text x="2046.4" y="1343" font-size="13.5" text-anchor="middle" stroke="#161616" stroke-width="0.8" stroke-linejoin="round" fill="#161616" transform="rotate(-90 2046.4 1343)">F</text>
<clipPath id="hc6"><path d="M1898.6,1278.8 L2010.9,1278.9 L2010.9,1288.9 L1898.6,1288.8 Z"/></clipPath>
<path d="M1879,1288.9 L1889.1,1278.8 M1888.5,1288.9 L1898.6,1278.8 M1898,1288.9 L1908.1,1278.8 M1907.5,1288.9 L1917.6,1278.8 M1917,1288.9 L1927.1,1278.8 M1926.5,1288.9 L1936.6,1278.8 M1936,1288.9 L1946.1,1278.8 M1945.5,1288.9 L1955.6,1278.8 M1955,1288.9 L1965.1,1278.8 M1964.5,1288.9 L1974.6,1278.8 M1974,1288.9 L1984.1,1278.8 M1983.5,1288.9 L1993.6,1278.8 M1993,1288.9 L2003.1,1278.8 M2002.5,1288.9 L2012.6,1278.8 M2012,1288.9 L2022.1,1278.8" stroke="#161616" stroke-width="1.6" fill="none" clip-path="url(#hc6)"/>
<path d="M1898.6,1278.8 L2010.9,1278.9 L2010.9,1288.9 L1898.6,1288.8 Z" fill="none" stroke="#161616" stroke-width="2.0" stroke-linejoin="miter"/>
<g fill="#555"><circle cx="1907.91" cy="1293.67" r="0.8"/><circle cx="1924.87" cy="1290.87" r="0.89"/><circle cx="1942.62" cy="1292.62" r="0.73"/><circle cx="1911.75" cy="1289.62" r="0.65"/><circle cx="1930.61" cy="1290.01" r="0.89"/><circle cx="1911.54" cy="1290.97" r="0.47"/><circle cx="1952.87" cy="1293.96" r="0.93"/><circle cx="1932.26" cy="1289.8" r="0.63"/><circle cx="1925.87" cy="1290.28" r="0.97"/><circle cx="1918.9" cy="1290.51" r="0.9"/><circle cx="1905.74" cy="1295.07" r="0.7"/><circle cx="1928.81" cy="1291.62" r="0.72"/><circle cx="1909.09" cy="1289.82" r="0.93"/><circle cx="1911.68" cy="1294.2" r="0.56"/><circle cx="1951.31" cy="1294.87" r="0.87"/><circle cx="1940.19" cy="1293.03" r="0.85"/><circle cx="1905.61" cy="1292.41" r="0.9"/><circle cx="1909.86" cy="1295.05" r="0.94"/><circle cx="1921.12" cy="1291.75" r="0.7"/><circle cx="1919.83" cy="1295.47" r="0.66"/><circle cx="1900.45" cy="1290.15" r="0.84"/><circle cx="1952.61" cy="1292.53" r="0.72"/></g>
<g fill="#555"><circle cx="2008.1" cy="1291.76" r="0.46"/><circle cx="2010.42" cy="1292.16" r="0.52"/><circle cx="1990.46" cy="1293.61" r="0.94"/><circle cx="1966.33" cy="1299.14" r="0.63"/><circle cx="1987.57" cy="1298.89" r="0.83"/><circle cx="2006.12" cy="1296.87" r="0.48"/><circle cx="2003.68" cy="1295.81" r="0.62"/><circle cx="1963.93" cy="1298.15" r="0.77"/><circle cx="2006.93" cy="1297.47" r="0.98"/><circle cx="1985.56" cy="1296.79" r="0.79"/><circle cx="1967.86" cy="1299.11" r="0.62"/><circle cx="1997.91" cy="1299.09" r="0.81"/><circle cx="1961.18" cy="1297.93" r="0.82"/><circle cx="1963.64" cy="1290.94" r="0.74"/><circle cx="1954.86" cy="1298.83" r="0.73"/><circle cx="1982.75" cy="1294.18" r="0.81"/><circle cx="2005.7" cy="1293.27" r="0.66"/><circle cx="1986.5" cy="1293.18" r="0.78"/><circle cx="1984.23" cy="1294.4" r="0.82"/><circle cx="1983.37" cy="1291.29" r="1"/><circle cx="1973.45" cy="1294.39" r="0.67"/><circle cx="2006.45" cy="1299.07" r="0.73"/><circle cx="1976.04" cy="1291.37" r="0.94"/><circle cx="1962.86" cy="1295.42" r="0.64"/><circle cx="1971.88" cy="1293.71" r="0.56"/><circle cx="1955.13" cy="1295.32" r="0.89"/><circle cx="1990.21" cy="1292.31" r="0.83"/><circle cx="1956" cy="1294.2" r="0.91"/><circle cx="2005.96" cy="1294.65" r="0.92"/><circle cx="1981.67" cy="1295.22" r="0.77"/><circle cx="2010" cy="1297.19" r="0.71"/><circle cx="1994.82" cy="1296.29" r="0.64"/><circle cx="1998.09" cy="1297.88" r="0.78"/><circle cx="2007.21" cy="1290.66" r="0.73"/><circle cx="1989.49" cy="1293.57" r="0.54"/><circle cx="1992.79" cy="1294.41" r="0.6"/></g>
<path d="M1898.6,1296 C1901.33,1295.93 1908.93,1295.53 1915,1295.6 C1921.07,1295.67 1929,1296.37 1935,1296.4 C1941,1296.43 1947.75,1295.12 1951,1295.8 C1954.25,1296.48 1950.5,1299.77 1954.5,1300.5 C1958.5,1301.23 1969.92,1299.95 1975,1300.2 C1980.08,1300.45 1980.83,1302.03 1985,1302 C1989.17,1301.97 1995.68,1300.23 2000,1300 C2004.32,1299.77 2009.08,1300.5 2010.9,1300.6" fill="none" stroke="#161616" stroke-width="1.6" stroke-linejoin="round" stroke-linecap="round"/>
<path d="M1910.8,1237.6L1910.6,1336.5L1912.2,1336.5L1912.4,1237.6Z" fill="#161616"/>
<path d="M1907.4,1275.83L1914.47,1282.9L1915.6,1281.77L1908.53,1274.7Z" fill="#161616"/>
<path d="M1907.4,1285.83L1914.47,1292.9L1915.6,1291.77L1908.53,1284.7Z" fill="#161616"/>
<path d="M1907.4,1295.63L1914.47,1302.7L1915.6,1301.57L1908.53,1294.5Z" fill="#161616"/>
<text x="1906.9" y="1250.1" font-size="13.5" text-anchor="middle" stroke="#161616" stroke-width="0.8" stroke-linejoin="round" fill="#161616" transform="rotate(-90 1906.9 1250.1)">15</text>
<text x="1906.9" y="1324" font-size="13.5" text-anchor="middle" stroke="#161616" stroke-width="0.8" stroke-linejoin="round" fill="#161616" transform="rotate(-90 1906.9 1324)">10</text>
<path d="M1900.4,1271.8 C1899.78,1272.73 1896.85,1275.7 1896.7,1277.4 C1896.55,1279.1 1899.03,1281.23 1899.5,1282" fill="none" stroke="#161616" stroke-width="1.6" stroke-linejoin="round" stroke-linecap="round"/>
<path d="M1896.9,1292.1 C1896.78,1292.92 1896.2,1295.45 1896.2,1297 C1896.2,1298.55 1896.78,1300.67 1896.9,1301.4" fill="none" stroke="#161616" stroke-width="1.6" stroke-linejoin="round" stroke-linecap="round"/>
<path d="M1972.6,1254.3L1972.6,1288.5L1974.2,1288.5L1974.2,1254.3Z" fill="#161616"/>
<path d="M1969.3,1275.83L1976.37,1282.9L1977.5,1281.77L1970.43,1274.7Z" fill="#161616"/>
<path d="M1969.3,1285.83L1976.37,1292.9L1977.5,1291.77L1970.43,1284.7Z" fill="#161616"/>
<text x="1967.9" y="1263" font-size="13.5" text-anchor="middle" stroke="#161616" stroke-width="0.8" stroke-linejoin="round" fill="#161616" transform="rotate(-90 1967.9 1263)">F</text>
<path d="M1953,1302.3L1952.9,1375.3L1954.9,1375.3L1955,1302.3Z" fill="#161616"/>
<path d="M2009.9,1329.1L2009.8,1376.2L2011.8,1376.2L2011.9,1329.1Z" fill="#161616"/>
<path d="M1949.4,1361.9L2015.9,1362L2015.9,1360.4L1949.4,1360.3Z" fill="#161616"/>
<path d="M1950.68,1365.55L1958.45,1357.78L1957.32,1356.65L1949.55,1364.42Z" fill="#161616"/>
<path d="M2007.58,1365.65L2015.35,1357.88L2014.22,1356.75L2006.45,1364.52Z" fill="#161616"/>
<text x="1971.5" y="1356.8" font-size="13.5" stroke="#161616" stroke-width="0.8" stroke-linejoin="round" fill="#161616">100</text>
<path d="M2337,0H2338V343H2337Z" fill="#2a2a2a"/><path d="M2337,343H2338V385H2337Z" fill="#c8c8c8"/><path d="M2337,405H2338V473H2337Z" fill="#808080"/><path d="M2337,480h1v8h-1zM2337,500h1v7h-1zM2337,520h1v8h-1zM2337,545h1v6h-1zM2337,570h1v8h-1zM2337,598h1v7h-1z" fill="#b0b0b0"/>
</g>
</svg>
</body></html>
